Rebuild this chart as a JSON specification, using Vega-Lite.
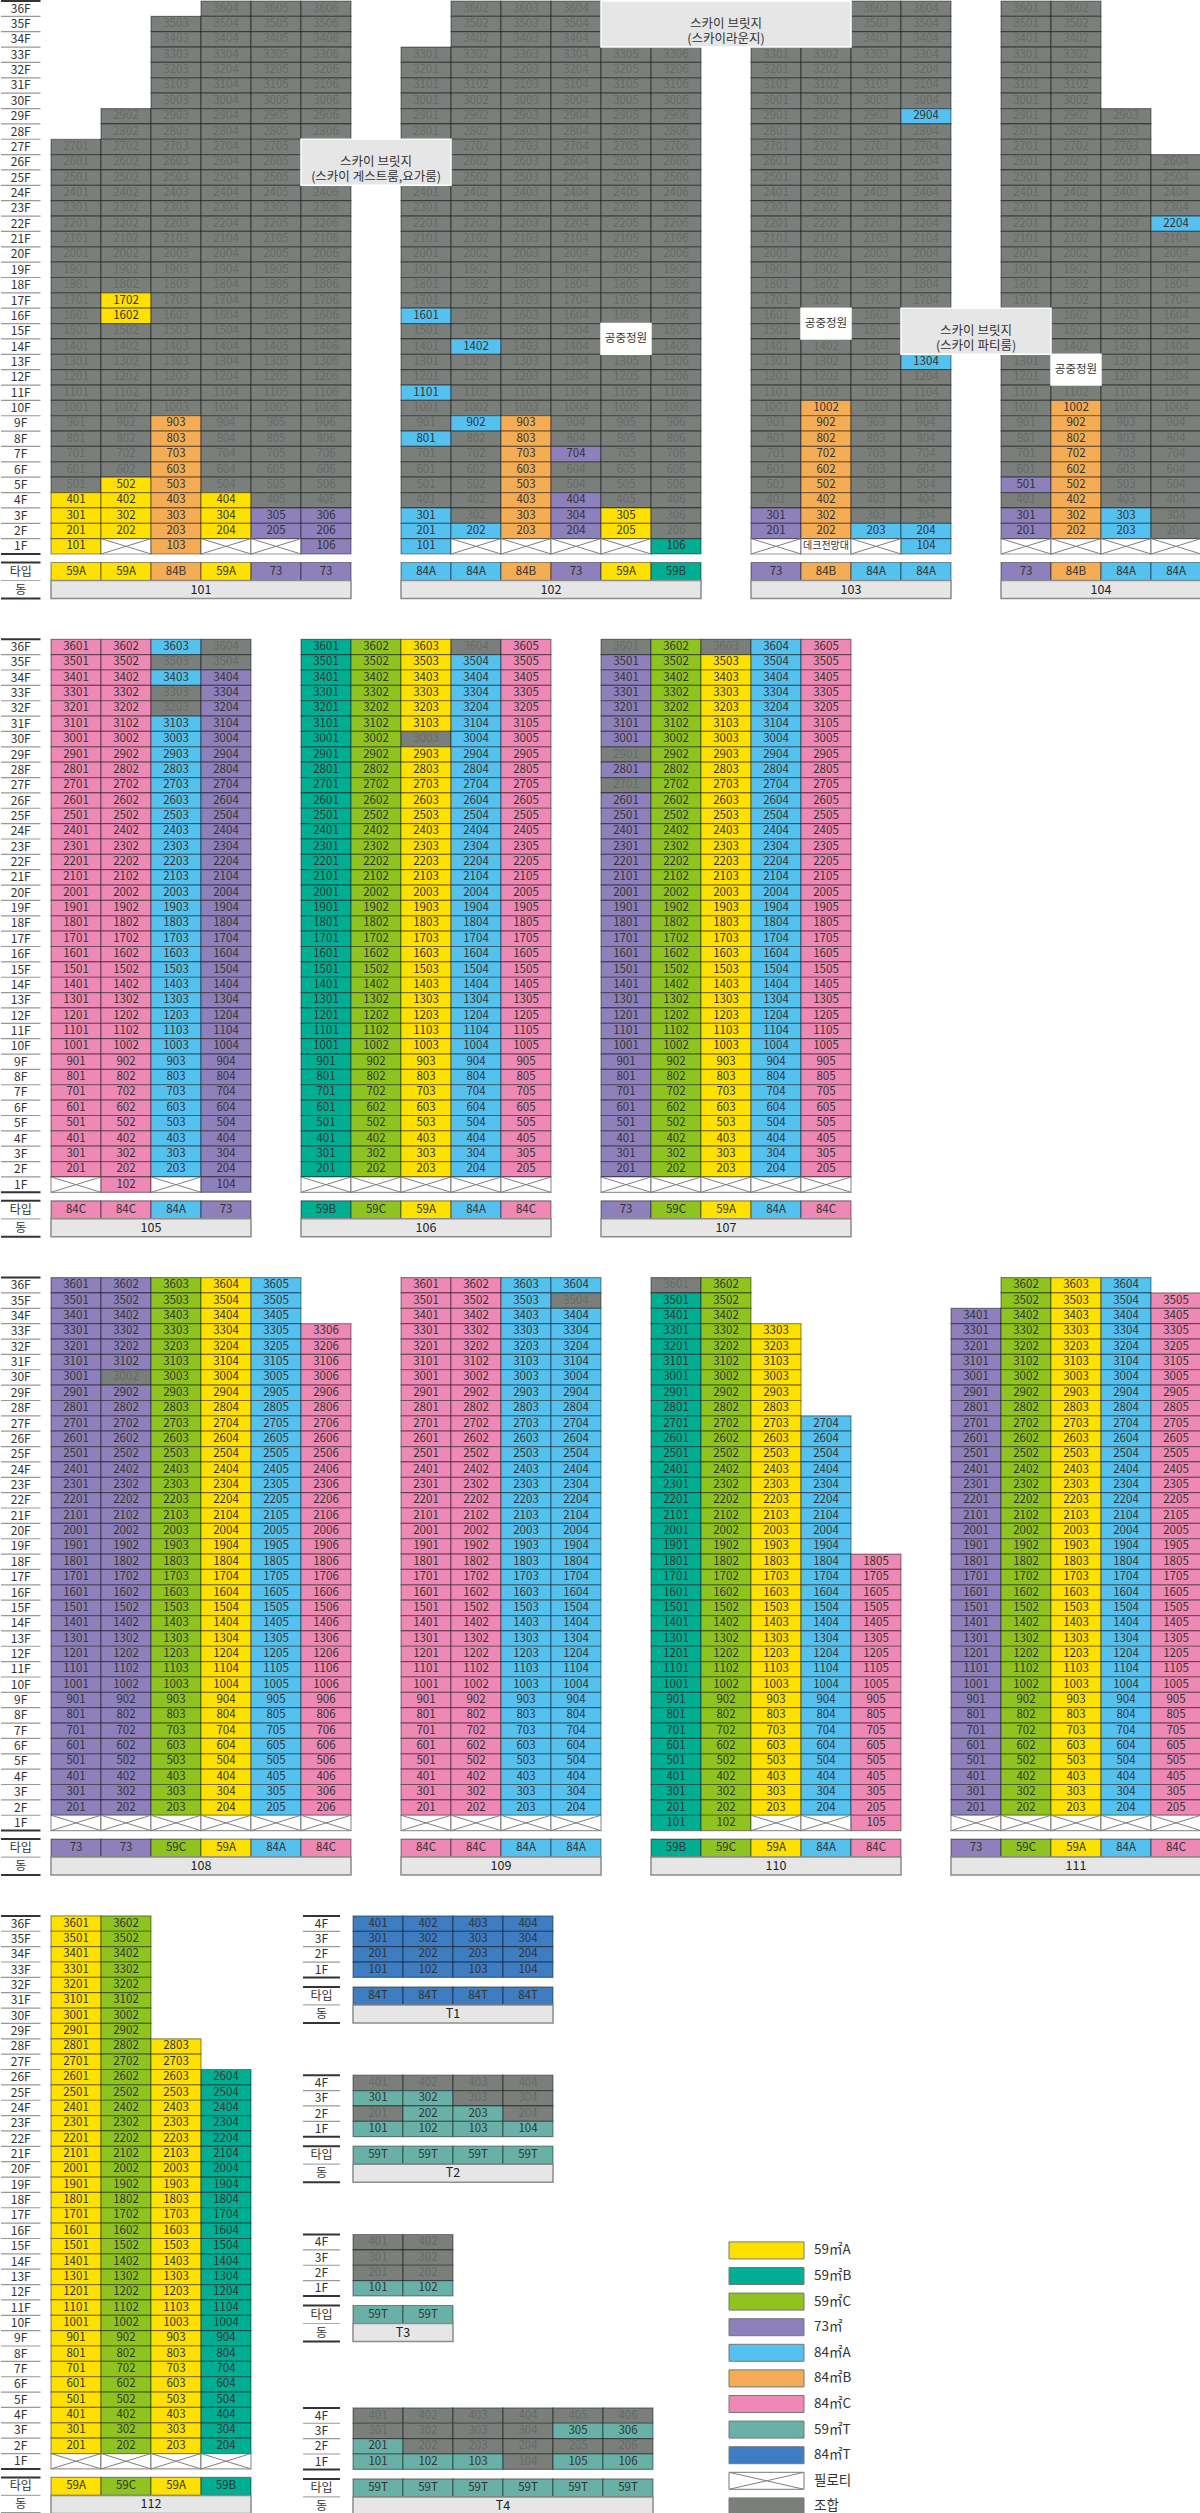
{
"$schema":"https://vega.github.io/schema/vega-lite/v6.json",
"padding":0,
"background":"white",
"config":{"view":{"stroke":null},"font":"Noto Sans CJK KR"},
"spacing":38.3,
"datasets":{
"lf36":[{"c":"L","f":36,"l":"36F"},{"c":"L","f":35,"l":"35F"},{"c":"L","f":34,"l":"34F"},{"c":"L","f":33,"l":"33F"},{"c":"L","f":32,"l":"32F"},{"c":"L","f":31,"l":"31F"},{"c":"L","f":30,"l":"30F"},{"c":"L","f":29,"l":"29F"},{"c":"L","f":28,"l":"28F"},{"c":"L","f":27,"l":"27F"},{"c":"L","f":26,"l":"26F"},{"c":"L","f":25,"l":"25F"},{"c":"L","f":24,"l":"24F"},{"c":"L","f":23,"l":"23F"},{"c":"L","f":22,"l":"22F"},{"c":"L","f":21,"l":"21F"},{"c":"L","f":20,"l":"20F"},{"c":"L","f":19,"l":"19F"},{"c":"L","f":18,"l":"18F"},{"c":"L","f":17,"l":"17F"},{"c":"L","f":16,"l":"16F"},{"c":"L","f":15,"l":"15F"},{"c":"L","f":14,"l":"14F"},{"c":"L","f":13,"l":"13F"},{"c":"L","f":12,"l":"12F"},{"c":"L","f":11,"l":"11F"},{"c":"L","f":10,"l":"10F"},{"c":"L","f":9,"l":"9F"},{"c":"L","f":8,"l":"8F"},{"c":"L","f":7,"l":"7F"},{"c":"L","f":6,"l":"6F"},{"c":"L","f":5,"l":"5F"},{"c":"L","f":4,"l":"4F"},{"c":"L","f":3,"l":"3F"},{"c":"L","f":2,"l":"2F"},{"c":"L","f":1,"l":"1F"}],
"lf4":[{"c":"L","f":4,"l":"4F"},{"c":"L","f":3,"l":"3F"},{"c":"L","f":2,"l":"2F"},{"c":"L","f":1,"l":"1F"}],
"lt":[{"c":"L","r":"타입"},{"c":"L","r":"동"}],
"ty1":[{"s":10101,"t":"59A","r":"타입"},{"s":10102,"t":"59A","r":"타입"},{"s":10103,"t":"84B","r":"타입"},{"s":10104,"t":"59A","r":"타입"},{"s":10105,"t":"73","r":"타입"},{"s":10106,"t":"73","r":"타입"},{"s":10201,"t":"84A","r":"타입"},{"s":10202,"t":"84A","r":"타입"},{"s":10203,"t":"84B","r":"타입"},{"s":10204,"t":"73","r":"타입"},{"s":10205,"t":"59A","r":"타입"},{"s":10206,"t":"59B","r":"타입"},{"s":10301,"t":"73","r":"타입"},{"s":10302,"t":"84B","r":"타입"},{"s":10303,"t":"84A","r":"타입"},{"s":10304,"t":"84A","r":"타입"},{"s":10401,"t":"73","r":"타입"},{"s":10402,"t":"84B","r":"타입"},{"s":10403,"t":"84A","r":"타입"},{"s":10404,"t":"84A","r":"타입"}],
"ty2":[{"s":10501,"t":"84C","r":"타입"},{"s":10502,"t":"84C","r":"타입"},{"s":10503,"t":"84A","r":"타입"},{"s":10504,"t":"73","r":"타입"},{"s":10601,"t":"59B","r":"타입"},{"s":10602,"t":"59C","r":"타입"},{"s":10603,"t":"59A","r":"타입"},{"s":10604,"t":"84A","r":"타입"},{"s":10605,"t":"84C","r":"타입"},{"s":10701,"t":"73","r":"타입"},{"s":10702,"t":"59C","r":"타입"},{"s":10703,"t":"59A","r":"타입"},{"s":10704,"t":"84A","r":"타입"},{"s":10705,"t":"84C","r":"타입"}],
"ty3":[{"s":10801,"t":"73","r":"타입"},{"s":10802,"t":"73","r":"타입"},{"s":10803,"t":"59C","r":"타입"},{"s":10804,"t":"59A","r":"타입"},{"s":10805,"t":"84A","r":"타입"},{"s":10806,"t":"84C","r":"타입"},{"s":10901,"t":"84C","r":"타입"},{"s":10902,"t":"84C","r":"타입"},{"s":10903,"t":"84A","r":"타입"},{"s":10904,"t":"84A","r":"타입"},{"s":11001,"t":"59B","r":"타입"},{"s":11002,"t":"59C","r":"타입"},{"s":11003,"t":"59A","r":"타입"},{"s":11004,"t":"84A","r":"타입"},{"s":11005,"t":"84C","r":"타입"},{"s":11101,"t":"73","r":"타입"},{"s":11102,"t":"59C","r":"타입"},{"s":11103,"t":"59A","r":"타입"},{"s":11104,"t":"84A","r":"타입"},{"s":11105,"t":"84C","r":"타입"}],
"ty4":[{"s":11201,"t":"59A","r":"타입"},{"s":11202,"t":"59C","r":"타입"},{"s":11203,"t":"59A","r":"타입"},{"s":11204,"t":"59B","r":"타입"}],
"tT1":[{"s":"T1-1","t":"84T","r":"타입"},{"s":"T1-2","t":"84T","r":"타입"},{"s":"T1-3","t":"84T","r":"타입"},{"s":"T1-4","t":"84T","r":"타입"}],
"tT2":[{"s":"T2-1","t":"59T","r":"타입"},{"s":"T2-2","t":"59T","r":"타입"},{"s":"T2-3","t":"59T","r":"타입"},{"s":"T2-4","t":"59T","r":"타입"}],
"tT3":[{"s":"T3-1","t":"59T","r":"타입"},{"s":"T3-2","t":"59T","r":"타입"}],
"tT4":[{"s":"T4-1","t":"59T","r":"타입"},{"s":"T4-2","t":"59T","r":"타입"},{"s":"T4-3","t":"59T","r":"타입"},{"s":"T4-4","t":"59T","r":"타입"},{"s":"T4-5","t":"59T","r":"타입"},{"s":"T4-6","t":"59T","r":"타입"}],
"n1":[{"s":10101,"s2":10106,"a":10103,"n":6,"b":"101","r":"동"},{"s":10201,"s2":10206,"a":10203,"n":6,"b":"102","r":"동"},{"s":10301,"s2":10304,"a":10302,"n":4,"b":"103","r":"동"},{"s":10401,"s2":10404,"a":10402,"n":4,"b":"104","r":"동"}],
"n2":[{"s":10501,"s2":10504,"a":10502,"n":4,"b":"105","r":"동"},{"s":10601,"s2":10605,"a":10603,"n":5,"b":"106","r":"동"},{"s":10701,"s2":10705,"a":10703,"n":5,"b":"107","r":"동"}],
"n3":[{"s":10801,"s2":10806,"a":10803,"n":6,"b":"108","r":"동"},{"s":10901,"s2":10904,"a":10902,"n":4,"b":"109","r":"동"},{"s":11001,"s2":11005,"a":11003,"n":5,"b":"110","r":"동"},{"s":11101,"s2":11105,"a":11103,"n":5,"b":"111","r":"동"}],
"n4":[{"s":11201,"s2":11204,"a":11202,"n":4,"b":"112","r":"동"}],
"nT1":[{"s":"T1-1","s2":"T1-4","a":"T1-2","n":4,"b":"T1","r":"동"}],
"nT2":[{"s":"T2-1","s2":"T2-4","a":"T2-2","n":4,"b":"T2","r":"동"}],
"nT3":[{"s":"T3-1","s2":"T3-2","a":"T3-1","n":2,"b":"T3","r":"동"}],
"nT4":[{"s":"T4-1","s2":"T4-6","a":"T4-3","n":6,"b":"T4","r":"동"}],
"b1":[{"s":10106,"s2":10201,"f":27,"f2":25,"k":"B"},{"s":10205,"s2":10302,"f":36,"f2":34,"k":"B"},{"s":10304,"s2":10401,"f":16,"f2":14,"k":"B"},{"s":10205,"s2":10205,"f":15,"f2":14,"k":"W"},{"s":10302,"s2":10302,"f":16,"f2":15,"k":"W"},{"s":10402,"s2":10402,"f":13,"f2":12,"k":"W"}],
"bt1":[{"s":"g1","f":26,"tx":"스카이 브릿지\n(스카이 게스트룸,요가룸)","k":"B"},{"s":"g2","f":35,"tx":"스카이 브릿지\n(스카이라운지)","k":"B"},{"s":"g3","f":15,"tx":"스카이 브릿지\n(스카이 파티룸)","k":"B"},{"s":10205,"f":15,"tx":"공중정원","k":"W"},{"s":10302,"f":16,"tx":"공중정원","k":"W"},{"s":10402,"f":13,"tx":"공중정원","k":"W"}],
"lg":[{"c":"sw","k":"59A","l":"59㎡A"},{"c":"sw","k":"59B","l":"59㎡B"},{"c":"sw","k":"59C","l":"59㎡C"},{"c":"sw","k":"73","l":"73㎡"},{"c":"sw","k":"84A","l":"84㎡A"},{"c":"sw","k":"84B","l":"84㎡B"},{"c":"sw","k":"84C","l":"84㎡C"},{"c":"sw","k":"59T","l":"59㎡T"},{"c":"sw","k":"84T","l":"84㎡T"},{"c":"sw","k":"P","l":"필로티"},{"c":"sw","k":"G","l":"조합"}],
"r1":[
{"s":10101,"f":27,"u":2701},{"s":10101,"f":26,"u":2601},{"s":10101,"f":25,"u":2501},{"s":10101,"f":24,"u":2401},{"s":10101,"f":23,"u":2301},{"s":10101,"f":22,"u":2201},{"s":10101,"f":21,"u":2101},{"s":10101,"f":20,"u":2001},{"s":10101,"f":19,"u":1901},{"s":10101,"f":18,"u":1801},{"s":10101,"f":17,"u":1701},{"s":10101,"f":16,"u":1601},{"s":10101,"f":15,"u":1501},{"s":10101,"f":14,"u":1401},{"s":10101,"f":13,"u":1301},{"s":10101,"f":12,"u":1201},{"s":10101,"f":11,"u":1101},{"s":10101,"f":10,"u":1001},{"s":10101,"f":9,"u":901},{"s":10101,"f":8,"u":801},{"s":10101,"f":7,"u":701},{"s":10101,"f":6,"u":601},{"s":10101,"f":5,"u":501},{"s":10101,"f":4,"u":401,"k":"C"},{"s":10101,"f":3,"u":301,"k":"C"},{"s":10101,"f":2,"u":201,"k":"C"},{"s":10101,"f":1,"u":101,"k":"C"},
{"s":10102,"f":29,"u":2902},{"s":10102,"f":28,"u":2802},{"s":10102,"f":27,"u":2702},{"s":10102,"f":26,"u":2602},{"s":10102,"f":25,"u":2502},{"s":10102,"f":24,"u":2402},{"s":10102,"f":23,"u":2302},{"s":10102,"f":22,"u":2202},{"s":10102,"f":21,"u":2102},{"s":10102,"f":20,"u":2002},{"s":10102,"f":19,"u":1902},{"s":10102,"f":18,"u":1802},{"s":10102,"f":17,"u":1702,"k":"C"},{"s":10102,"f":16,"u":1602,"k":"C"},{"s":10102,"f":15,"u":1502},{"s":10102,"f":14,"u":1402},{"s":10102,"f":13,"u":1302},{"s":10102,"f":12,"u":1202},{"s":10102,"f":11,"u":1102},{"s":10102,"f":10,"u":1002},{"s":10102,"f":9,"u":902},{"s":10102,"f":8,"u":802},{"s":10102,"f":7,"u":702},{"s":10102,"f":6,"u":602},{"s":10102,"f":5,"u":502,"k":"C"},{"s":10102,"f":4,"u":402,"k":"C"},{"s":10102,"f":3,"u":302,"k":"C"},{"s":10102,"f":2,"u":202,"k":"C"},{"s":10102,"f":1,"k":"P"},
{"s":10103,"f":35,"u":3503},{"s":10103,"f":34,"u":3403},{"s":10103,"f":33,"u":3303},{"s":10103,"f":32,"u":3203},{"s":10103,"f":31,"u":3103},{"s":10103,"f":30,"u":3003},{"s":10103,"f":29,"u":2903},{"s":10103,"f":28,"u":2803},{"s":10103,"f":27,"u":2703},{"s":10103,"f":26,"u":2603},{"s":10103,"f":25,"u":2503},{"s":10103,"f":24,"u":2403},{"s":10103,"f":23,"u":2303},{"s":10103,"f":22,"u":2203},{"s":10103,"f":21,"u":2103},{"s":10103,"f":20,"u":2003},{"s":10103,"f":19,"u":1903},{"s":10103,"f":18,"u":1803},{"s":10103,"f":17,"u":1703},{"s":10103,"f":16,"u":1603},{"s":10103,"f":15,"u":1503},{"s":10103,"f":14,"u":1403},{"s":10103,"f":13,"u":1303},{"s":10103,"f":12,"u":1203},{"s":10103,"f":11,"u":1103},{"s":10103,"f":10,"u":1003},{"s":10103,"f":9,"u":903,"k":"C"},{"s":10103,"f":8,"u":803,"k":"C"},{"s":10103,"f":7,"u":703,"k":"C"},{"s":10103,"f":6,"u":603,"k":"C"},{"s":10103,"f":5,"u":503,"k":"C"},{"s":10103,"f":4,"u":403,"k":"C"},{"s":10103,"f":3,"u":303,"k":"C"},{"s":10103,"f":2,"u":203,"k":"C"},{"s":10103,"f":1,"u":103,"k":"C"},
{"s":10104,"f":36,"u":3604},{"s":10104,"f":35,"u":3504},{"s":10104,"f":34,"u":3404},{"s":10104,"f":33,"u":3304},{"s":10104,"f":32,"u":3204},{"s":10104,"f":31,"u":3104},{"s":10104,"f":30,"u":3004},{"s":10104,"f":29,"u":2904},{"s":10104,"f":28,"u":2804},{"s":10104,"f":27,"u":2704},{"s":10104,"f":26,"u":2604},{"s":10104,"f":25,"u":2504},{"s":10104,"f":24,"u":2404},{"s":10104,"f":23,"u":2304},{"s":10104,"f":22,"u":2204},{"s":10104,"f":21,"u":2104},{"s":10104,"f":20,"u":2004},{"s":10104,"f":19,"u":1904},{"s":10104,"f":18,"u":1804},{"s":10104,"f":17,"u":1704},{"s":10104,"f":16,"u":1604},{"s":10104,"f":15,"u":1504},{"s":10104,"f":14,"u":1404},{"s":10104,"f":13,"u":1304},{"s":10104,"f":12,"u":1204},{"s":10104,"f":11,"u":1104},{"s":10104,"f":10,"u":1004},{"s":10104,"f":9,"u":904},{"s":10104,"f":8,"u":804},{"s":10104,"f":7,"u":704},{"s":10104,"f":6,"u":604},{"s":10104,"f":5,"u":504},{"s":10104,"f":4,"u":404,"k":"C"},{"s":10104,"f":3,"u":304,"k":"C"},{"s":10104,"f":2,"u":204,"k":"C"},{"s":10104,"f":1,"k":"P"},
{"s":10105,"f":36,"u":3605},{"s":10105,"f":35,"u":3505},{"s":10105,"f":34,"u":3405},{"s":10105,"f":33,"u":3305},{"s":10105,"f":32,"u":3205},{"s":10105,"f":31,"u":3105},{"s":10105,"f":30,"u":3005},{"s":10105,"f":29,"u":2905},{"s":10105,"f":28,"u":2805},{"s":10105,"f":27,"u":2705},{"s":10105,"f":26,"u":2605},{"s":10105,"f":25,"u":2505},{"s":10105,"f":24,"u":2405},{"s":10105,"f":23,"u":2305},{"s":10105,"f":22,"u":2205},{"s":10105,"f":21,"u":2105},{"s":10105,"f":20,"u":2005},{"s":10105,"f":19,"u":1905},{"s":10105,"f":18,"u":1805},{"s":10105,"f":17,"u":1705},{"s":10105,"f":16,"u":1605},{"s":10105,"f":15,"u":1505},{"s":10105,"f":14,"u":1405},{"s":10105,"f":13,"u":1305},{"s":10105,"f":12,"u":1205},{"s":10105,"f":11,"u":1105},{"s":10105,"f":10,"u":1005},{"s":10105,"f":9,"u":905},{"s":10105,"f":8,"u":805},{"s":10105,"f":7,"u":705},{"s":10105,"f":6,"u":605},{"s":10105,"f":5,"u":505},{"s":10105,"f":4,"u":405},{"s":10105,"f":3,"u":305,"k":"C"},{"s":10105,"f":2,"u":205,"k":"C"},{"s":10105,"f":1,"k":"P"},
{"s":10106,"f":36,"u":3606},{"s":10106,"f":35,"u":3506},{"s":10106,"f":34,"u":3406},{"s":10106,"f":33,"u":3306},{"s":10106,"f":32,"u":3206},{"s":10106,"f":31,"u":3106},{"s":10106,"f":30,"u":3006},{"s":10106,"f":29,"u":2906},{"s":10106,"f":28,"u":2806},{"s":10106,"f":24,"u":2406},{"s":10106,"f":23,"u":2306},{"s":10106,"f":22,"u":2206},{"s":10106,"f":21,"u":2106},{"s":10106,"f":20,"u":2006},{"s":10106,"f":19,"u":1906},{"s":10106,"f":18,"u":1806},{"s":10106,"f":17,"u":1706},{"s":10106,"f":16,"u":1606},{"s":10106,"f":15,"u":1506},{"s":10106,"f":14,"u":1406},{"s":10106,"f":13,"u":1306},{"s":10106,"f":12,"u":1206},{"s":10106,"f":11,"u":1106},{"s":10106,"f":10,"u":1006},{"s":10106,"f":9,"u":906},{"s":10106,"f":8,"u":806},{"s":10106,"f":7,"u":706},{"s":10106,"f":6,"u":606},{"s":10106,"f":5,"u":506},{"s":10106,"f":4,"u":406},{"s":10106,"f":3,"u":306,"k":"C"},{"s":10106,"f":2,"u":206,"k":"C"},{"s":10106,"f":1,"u":106,"k":"C"},
{"s":10201,"f":33,"u":3301},{"s":10201,"f":32,"u":3201},{"s":10201,"f":31,"u":3101},{"s":10201,"f":30,"u":3001},{"s":10201,"f":29,"u":2901},{"s":10201,"f":28,"u":2801},{"s":10201,"f":24,"u":2401},{"s":10201,"f":23,"u":2301},{"s":10201,"f":22,"u":2201},{"s":10201,"f":21,"u":2101},{"s":10201,"f":20,"u":2001},{"s":10201,"f":19,"u":1901},{"s":10201,"f":18,"u":1801},{"s":10201,"f":17,"u":1701},{"s":10201,"f":16,"u":1601,"k":"C"},{"s":10201,"f":15,"u":1501},{"s":10201,"f":14,"u":1401},{"s":10201,"f":13,"u":1301},{"s":10201,"f":12,"u":1201},{"s":10201,"f":11,"u":1101,"k":"C"},{"s":10201,"f":10,"u":1001},{"s":10201,"f":9,"u":901},{"s":10201,"f":8,"u":801,"k":"C"},{"s":10201,"f":7,"u":701},{"s":10201,"f":6,"u":601},{"s":10201,"f":5,"u":501},{"s":10201,"f":4,"u":401},{"s":10201,"f":3,"u":301,"k":"C"},{"s":10201,"f":2,"u":201,"k":"C"},{"s":10201,"f":1,"u":101,"k":"C"},
{"s":10202,"f":36,"u":3602},{"s":10202,"f":35,"u":3502},{"s":10202,"f":34,"u":3402},{"s":10202,"f":33,"u":3302},{"s":10202,"f":32,"u":3202},{"s":10202,"f":31,"u":3102},{"s":10202,"f":30,"u":3002},{"s":10202,"f":29,"u":2902},{"s":10202,"f":28,"u":2802},{"s":10202,"f":27,"u":2702},{"s":10202,"f":26,"u":2602},{"s":10202,"f":25,"u":2502},{"s":10202,"f":24,"u":2402},{"s":10202,"f":23,"u":2302},{"s":10202,"f":22,"u":2202},{"s":10202,"f":21,"u":2102},{"s":10202,"f":20,"u":2002},{"s":10202,"f":19,"u":1902},{"s":10202,"f":18,"u":1802},{"s":10202,"f":17,"u":1702},{"s":10202,"f":16,"u":1602},{"s":10202,"f":15,"u":1502},{"s":10202,"f":14,"u":1402,"k":"C"},{"s":10202,"f":13,"u":1302},{"s":10202,"f":12,"u":1202},{"s":10202,"f":11,"u":1102},{"s":10202,"f":10,"u":1002},{"s":10202,"f":9,"u":902,"k":"C"},{"s":10202,"f":8,"u":802},{"s":10202,"f":7,"u":702},{"s":10202,"f":6,"u":602},{"s":10202,"f":5,"u":502},{"s":10202,"f":4,"u":402},{"s":10202,"f":3,"u":302},{"s":10202,"f":2,"u":202,"k":"C"},{"s":10202,"f":1,"k":"P"},
{"s":10203,"f":36,"u":3603},{"s":10203,"f":35,"u":3503},{"s":10203,"f":34,"u":3403},{"s":10203,"f":33,"u":3303},{"s":10203,"f":32,"u":3203},{"s":10203,"f":31,"u":3103},{"s":10203,"f":30,"u":3003},{"s":10203,"f":29,"u":2903},{"s":10203,"f":28,"u":2803},{"s":10203,"f":27,"u":2703},{"s":10203,"f":26,"u":2603},{"s":10203,"f":25,"u":2503},{"s":10203,"f":24,"u":2403},{"s":10203,"f":23,"u":2303},{"s":10203,"f":22,"u":2203},{"s":10203,"f":21,"u":2103},{"s":10203,"f":20,"u":2003},{"s":10203,"f":19,"u":1903},{"s":10203,"f":18,"u":1803},{"s":10203,"f":17,"u":1703},{"s":10203,"f":16,"u":1603},{"s":10203,"f":15,"u":1503},{"s":10203,"f":14,"u":1403},{"s":10203,"f":13,"u":1303},{"s":10203,"f":12,"u":1203},{"s":10203,"f":11,"u":1103},{"s":10203,"f":10,"u":1003},{"s":10203,"f":9,"u":903,"k":"C"},{"s":10203,"f":8,"u":803,"k":"C"},{"s":10203,"f":7,"u":703,"k":"C"},{"s":10203,"f":6,"u":603,"k":"C"},{"s":10203,"f":5,"u":503,"k":"C"},{"s":10203,"f":4,"u":403,"k":"C"},{"s":10203,"f":3,"u":303,"k":"C"},{"s":10203,"f":2,"u":203,"k":"C"},{"s":10203,"f":1,"k":"P"},
{"s":10204,"f":36,"u":3604},{"s":10204,"f":35,"u":3504},{"s":10204,"f":34,"u":3404},{"s":10204,"f":33,"u":3304},{"s":10204,"f":32,"u":3204},{"s":10204,"f":31,"u":3104},{"s":10204,"f":30,"u":3004},{"s":10204,"f":29,"u":2904},{"s":10204,"f":28,"u":2804},{"s":10204,"f":27,"u":2704},{"s":10204,"f":26,"u":2604},{"s":10204,"f":25,"u":2504},{"s":10204,"f":24,"u":2404},{"s":10204,"f":23,"u":2304},{"s":10204,"f":22,"u":2204},{"s":10204,"f":21,"u":2104},{"s":10204,"f":20,"u":2004},{"s":10204,"f":19,"u":1904},{"s":10204,"f":18,"u":1804},{"s":10204,"f":17,"u":1704},{"s":10204,"f":16,"u":1604},{"s":10204,"f":15,"u":1504},{"s":10204,"f":14,"u":1404},{"s":10204,"f":13,"u":1304},{"s":10204,"f":12,"u":1204},{"s":10204,"f":11,"u":1104},{"s":10204,"f":10,"u":1004},{"s":10204,"f":9,"u":904},{"s":10204,"f":8,"u":804},{"s":10204,"f":7,"u":704,"k":"C"},{"s":10204,"f":6,"u":604},{"s":10204,"f":5,"u":504},{"s":10204,"f":4,"u":404,"k":"C"},{"s":10204,"f":3,"u":304,"k":"C"},{"s":10204,"f":2,"u":204,"k":"C"},{"s":10204,"f":1,"k":"P"},
{"s":10205,"f":33,"u":3305},{"s":10205,"f":32,"u":3205},{"s":10205,"f":31,"u":3105},{"s":10205,"f":30,"u":3005},{"s":10205,"f":29,"u":2905},{"s":10205,"f":28,"u":2805},{"s":10205,"f":27,"u":2705},{"s":10205,"f":26,"u":2605},{"s":10205,"f":25,"u":2505},{"s":10205,"f":24,"u":2405},{"s":10205,"f":23,"u":2305},{"s":10205,"f":22,"u":2205},{"s":10205,"f":21,"u":2105},{"s":10205,"f":20,"u":2005},{"s":10205,"f":19,"u":1905},{"s":10205,"f":18,"u":1805},{"s":10205,"f":17,"u":1705},{"s":10205,"f":16,"u":1605},{"s":10205,"f":13,"u":1305},{"s":10205,"f":12,"u":1205},{"s":10205,"f":11,"u":1105},{"s":10205,"f":10,"u":1005},{"s":10205,"f":9,"u":905},{"s":10205,"f":8,"u":805},{"s":10205,"f":7,"u":705},{"s":10205,"f":6,"u":605},{"s":10205,"f":5,"u":505},{"s":10205,"f":4,"u":405},{"s":10205,"f":3,"u":305,"k":"C"},{"s":10205,"f":2,"u":205,"k":"C"},{"s":10205,"f":1,"k":"P"},
{"s":10206,"f":33,"u":3306},{"s":10206,"f":32,"u":3206},{"s":10206,"f":31,"u":3106},{"s":10206,"f":30,"u":3006},{"s":10206,"f":29,"u":2906},{"s":10206,"f":28,"u":2806},{"s":10206,"f":27,"u":2706},{"s":10206,"f":26,"u":2606},{"s":10206,"f":25,"u":2506},{"s":10206,"f":24,"u":2406},{"s":10206,"f":23,"u":2306},{"s":10206,"f":22,"u":2206},{"s":10206,"f":21,"u":2106},{"s":10206,"f":20,"u":2006},{"s":10206,"f":19,"u":1906},{"s":10206,"f":18,"u":1806},{"s":10206,"f":17,"u":1706},{"s":10206,"f":16,"u":1606},{"s":10206,"f":15,"u":1506},{"s":10206,"f":14,"u":1406},{"s":10206,"f":13,"u":1306},{"s":10206,"f":12,"u":1206},{"s":10206,"f":11,"u":1106},{"s":10206,"f":10,"u":1006},{"s":10206,"f":9,"u":906},{"s":10206,"f":8,"u":806},{"s":10206,"f":7,"u":706},{"s":10206,"f":6,"u":606},{"s":10206,"f":5,"u":506},{"s":10206,"f":4,"u":406},{"s":10206,"f":3,"u":306},{"s":10206,"f":2,"u":206},{"s":10206,"f":1,"u":106,"k":"C"},
{"s":10301,"f":33,"u":3301},{"s":10301,"f":32,"u":3201},{"s":10301,"f":31,"u":3101},{"s":10301,"f":30,"u":3001},{"s":10301,"f":29,"u":2901},{"s":10301,"f":28,"u":2801},{"s":10301,"f":27,"u":2701},{"s":10301,"f":26,"u":2601},{"s":10301,"f":25,"u":2501},{"s":10301,"f":24,"u":2401},{"s":10301,"f":23,"u":2301},{"s":10301,"f":22,"u":2201},{"s":10301,"f":21,"u":2101},{"s":10301,"f":20,"u":2001},{"s":10301,"f":19,"u":1901},{"s":10301,"f":18,"u":1801},{"s":10301,"f":17,"u":1701},{"s":10301,"f":16,"u":1601},{"s":10301,"f":15,"u":1501},{"s":10301,"f":14,"u":1401},{"s":10301,"f":13,"u":1301},{"s":10301,"f":12,"u":1201},{"s":10301,"f":11,"u":1101},{"s":10301,"f":10,"u":1001},{"s":10301,"f":9,"u":901},{"s":10301,"f":8,"u":801},{"s":10301,"f":7,"u":701},{"s":10301,"f":6,"u":601},{"s":10301,"f":5,"u":501},{"s":10301,"f":4,"u":401},{"s":10301,"f":3,"u":301,"k":"C"},{"s":10301,"f":2,"u":201,"k":"C"},{"s":10301,"f":1,"k":"P"},
{"s":10302,"f":33,"u":3302},{"s":10302,"f":32,"u":3202},{"s":10302,"f":31,"u":3102},{"s":10302,"f":30,"u":3002},{"s":10302,"f":29,"u":2902},{"s":10302,"f":28,"u":2802},{"s":10302,"f":27,"u":2702},{"s":10302,"f":26,"u":2602},{"s":10302,"f":25,"u":2502},{"s":10302,"f":24,"u":2402},{"s":10302,"f":23,"u":2302},{"s":10302,"f":22,"u":2202},{"s":10302,"f":21,"u":2102},{"s":10302,"f":20,"u":2002},{"s":10302,"f":19,"u":1902},{"s":10302,"f":18,"u":1802},{"s":10302,"f":17,"u":1702},{"s":10302,"f":14,"u":1402},{"s":10302,"f":13,"u":1302},{"s":10302,"f":12,"u":1202},{"s":10302,"f":11,"u":1102},{"s":10302,"f":10,"u":1002,"k":"C"},{"s":10302,"f":9,"u":902,"k":"C"},{"s":10302,"f":8,"u":802,"k":"C"},{"s":10302,"f":7,"u":702,"k":"C"},{"s":10302,"f":6,"u":602,"k":"C"},{"s":10302,"f":5,"u":502,"k":"C"},{"s":10302,"f":4,"u":402,"k":"C"},{"s":10302,"f":3,"u":302,"k":"C"},{"s":10302,"f":2,"u":202,"k":"C"},{"s":10302,"f":1,"u":"데크전망대","k":"W"},
{"s":10303,"f":36,"u":3603},{"s":10303,"f":35,"u":3503},{"s":10303,"f":34,"u":3403},{"s":10303,"f":33,"u":3303},{"s":10303,"f":32,"u":3203},{"s":10303,"f":31,"u":3103},{"s":10303,"f":30,"u":3003},{"s":10303,"f":29,"u":2903},{"s":10303,"f":28,"u":2803},{"s":10303,"f":27,"u":2703},{"s":10303,"f":26,"u":2603},{"s":10303,"f":25,"u":2503},{"s":10303,"f":24,"u":2403},{"s":10303,"f":23,"u":2303},{"s":10303,"f":22,"u":2203},{"s":10303,"f":21,"u":2103},{"s":10303,"f":20,"u":2003},{"s":10303,"f":19,"u":1903},{"s":10303,"f":18,"u":1803},{"s":10303,"f":17,"u":1703},{"s":10303,"f":16,"u":1603},{"s":10303,"f":15,"u":1503},{"s":10303,"f":14,"u":1403},{"s":10303,"f":13,"u":1303},{"s":10303,"f":12,"u":1203},{"s":10303,"f":11,"u":1103},{"s":10303,"f":10,"u":1003},{"s":10303,"f":9,"u":903},{"s":10303,"f":8,"u":803},{"s":10303,"f":7,"u":703},{"s":10303,"f":6,"u":603},{"s":10303,"f":5,"u":503},{"s":10303,"f":4,"u":403},{"s":10303,"f":3,"u":303},{"s":10303,"f":2,"u":203,"k":"C"},{"s":10303,"f":1,"k":"P"},
{"s":10304,"f":36,"u":3604},{"s":10304,"f":35,"u":3504},{"s":10304,"f":34,"u":3404},{"s":10304,"f":33,"u":3304},{"s":10304,"f":32,"u":3204},{"s":10304,"f":31,"u":3104},{"s":10304,"f":30,"u":3004},{"s":10304,"f":29,"u":2904,"k":"C"},{"s":10304,"f":28,"u":2804},{"s":10304,"f":27,"u":2704},{"s":10304,"f":26,"u":2604},{"s":10304,"f":25,"u":2504},{"s":10304,"f":24,"u":2404},{"s":10304,"f":23,"u":2304},{"s":10304,"f":22,"u":2204},{"s":10304,"f":21,"u":2104},{"s":10304,"f":20,"u":2004},{"s":10304,"f":19,"u":1904},{"s":10304,"f":18,"u":1804},{"s":10304,"f":17,"u":1704},{"s":10304,"f":13,"u":1304,"k":"C"},{"s":10304,"f":12,"u":1204},{"s":10304,"f":11,"u":1104},{"s":10304,"f":10,"u":1004},{"s":10304,"f":9,"u":904},{"s":10304,"f":8,"u":804},{"s":10304,"f":7,"u":704},{"s":10304,"f":6,"u":604},{"s":10304,"f":5,"u":504},{"s":10304,"f":4,"u":404},{"s":10304,"f":3,"u":304},{"s":10304,"f":2,"u":204,"k":"C"},{"s":10304,"f":1,"u":104,"k":"C"},
{"s":10401,"f":36,"u":3601},{"s":10401,"f":35,"u":3501},{"s":10401,"f":34,"u":3401},{"s":10401,"f":33,"u":3301},{"s":10401,"f":32,"u":3201},{"s":10401,"f":31,"u":3101},{"s":10401,"f":30,"u":3001},{"s":10401,"f":29,"u":2901},{"s":10401,"f":28,"u":2801},{"s":10401,"f":27,"u":2701},{"s":10401,"f":26,"u":2601},{"s":10401,"f":25,"u":2501},{"s":10401,"f":24,"u":2401},{"s":10401,"f":23,"u":2301},{"s":10401,"f":22,"u":2201},{"s":10401,"f":21,"u":2101},{"s":10401,"f":20,"u":2001},{"s":10401,"f":19,"u":1901},{"s":10401,"f":18,"u":1801},{"s":10401,"f":17,"u":1701},{"s":10401,"f":13,"u":1301},{"s":10401,"f":12,"u":1201},{"s":10401,"f":11,"u":1101},{"s":10401,"f":10,"u":1001},{"s":10401,"f":9,"u":901},{"s":10401,"f":8,"u":801},{"s":10401,"f":7,"u":701},{"s":10401,"f":6,"u":601},{"s":10401,"f":5,"u":501,"k":"C"},{"s":10401,"f":4,"u":401},{"s":10401,"f":3,"u":301,"k":"C"},{"s":10401,"f":2,"u":201,"k":"C"},{"s":10401,"f":1,"k":"P"},
{"s":10402,"f":36,"u":3602},{"s":10402,"f":35,"u":3502},{"s":10402,"f":34,"u":3402},{"s":10402,"f":33,"u":3302},{"s":10402,"f":32,"u":3202},{"s":10402,"f":31,"u":3102},{"s":10402,"f":30,"u":3002},{"s":10402,"f":29,"u":2902},{"s":10402,"f":28,"u":2802},{"s":10402,"f":27,"u":2702},{"s":10402,"f":26,"u":2602},{"s":10402,"f":25,"u":2502},{"s":10402,"f":24,"u":2402},{"s":10402,"f":23,"u":2302},{"s":10402,"f":22,"u":2202},{"s":10402,"f":21,"u":2102},{"s":10402,"f":20,"u":2002},{"s":10402,"f":19,"u":1902},{"s":10402,"f":18,"u":1802},{"s":10402,"f":17,"u":1702},{"s":10402,"f":16,"u":1602},{"s":10402,"f":15,"u":1502},{"s":10402,"f":14,"u":1402},{"s":10402,"f":11,"u":1102},{"s":10402,"f":10,"u":1002,"k":"C"},{"s":10402,"f":9,"u":902,"k":"C"},{"s":10402,"f":8,"u":802,"k":"C"},{"s":10402,"f":7,"u":702,"k":"C"},{"s":10402,"f":6,"u":602,"k":"C"},{"s":10402,"f":5,"u":502,"k":"C"},{"s":10402,"f":4,"u":402,"k":"C"},{"s":10402,"f":3,"u":302,"k":"C"},{"s":10402,"f":2,"u":202,"k":"C"},{"s":10402,"f":1,"k":"P"},
{"s":10403,"f":29,"u":2903},{"s":10403,"f":28,"u":2803},{"s":10403,"f":27,"u":2703},{"s":10403,"f":26,"u":2603},{"s":10403,"f":25,"u":2503},{"s":10403,"f":24,"u":2403},{"s":10403,"f":23,"u":2303},{"s":10403,"f":22,"u":2203},{"s":10403,"f":21,"u":2103},{"s":10403,"f":20,"u":2003},{"s":10403,"f":19,"u":1903},{"s":10403,"f":18,"u":1803},{"s":10403,"f":17,"u":1703},{"s":10403,"f":16,"u":1603},{"s":10403,"f":15,"u":1503},{"s":10403,"f":14,"u":1403},{"s":10403,"f":13,"u":1303},{"s":10403,"f":12,"u":1203},{"s":10403,"f":11,"u":1103},{"s":10403,"f":10,"u":1003},{"s":10403,"f":9,"u":903},{"s":10403,"f":8,"u":803},{"s":10403,"f":7,"u":703},{"s":10403,"f":6,"u":603},{"s":10403,"f":5,"u":503},{"s":10403,"f":4,"u":403},{"s":10403,"f":3,"u":303,"k":"C"},{"s":10403,"f":2,"u":203,"k":"C"},{"s":10403,"f":1,"k":"P"},
{"s":10404,"f":26,"u":2604},{"s":10404,"f":25,"u":2504},{"s":10404,"f":24,"u":2404},{"s":10404,"f":23,"u":2304},{"s":10404,"f":22,"u":2204,"k":"C"},{"s":10404,"f":21,"u":2104},{"s":10404,"f":20,"u":2004},{"s":10404,"f":19,"u":1904},{"s":10404,"f":18,"u":1804},{"s":10404,"f":17,"u":1704},{"s":10404,"f":16,"u":1604},{"s":10404,"f":15,"u":1504},{"s":10404,"f":14,"u":1404},{"s":10404,"f":13,"u":1304},{"s":10404,"f":12,"u":1204},{"s":10404,"f":11,"u":1104},{"s":10404,"f":10,"u":1004},{"s":10404,"f":9,"u":904},{"s":10404,"f":8,"u":804},{"s":10404,"f":7,"u":704},{"s":10404,"f":6,"u":604},{"s":10404,"f":5,"u":504},{"s":10404,"f":4,"u":404},{"s":10404,"f":3,"u":304},{"s":10404,"f":2,"u":204},{"s":10404,"f":1,"k":"P"}
],
"r2":[
{"s":10501,"f":36,"u":3601},{"s":10501,"f":35,"u":3501},{"s":10501,"f":34,"u":3401},{"s":10501,"f":33,"u":3301},{"s":10501,"f":32,"u":3201},{"s":10501,"f":31,"u":3101},{"s":10501,"f":30,"u":3001},{"s":10501,"f":29,"u":2901},{"s":10501,"f":28,"u":2801},{"s":10501,"f":27,"u":2701},{"s":10501,"f":26,"u":2601},{"s":10501,"f":25,"u":2501},{"s":10501,"f":24,"u":2401},{"s":10501,"f":23,"u":2301},{"s":10501,"f":22,"u":2201},{"s":10501,"f":21,"u":2101},{"s":10501,"f":20,"u":2001},{"s":10501,"f":19,"u":1901},{"s":10501,"f":18,"u":1801},{"s":10501,"f":17,"u":1701},{"s":10501,"f":16,"u":1601},{"s":10501,"f":15,"u":1501},{"s":10501,"f":14,"u":1401},{"s":10501,"f":13,"u":1301},{"s":10501,"f":12,"u":1201},{"s":10501,"f":11,"u":1101},{"s":10501,"f":10,"u":1001},{"s":10501,"f":9,"u":901},{"s":10501,"f":8,"u":801},{"s":10501,"f":7,"u":701},{"s":10501,"f":6,"u":601},{"s":10501,"f":5,"u":501},{"s":10501,"f":4,"u":401},{"s":10501,"f":3,"u":301},{"s":10501,"f":2,"u":201},{"s":10501,"f":1,"k":"P"},
{"s":10502,"f":36,"u":3602},{"s":10502,"f":35,"u":3502},{"s":10502,"f":34,"u":3402},{"s":10502,"f":33,"u":3302},{"s":10502,"f":32,"u":3202},{"s":10502,"f":31,"u":3102},{"s":10502,"f":30,"u":3002},{"s":10502,"f":29,"u":2902},{"s":10502,"f":28,"u":2802},{"s":10502,"f":27,"u":2702},{"s":10502,"f":26,"u":2602},{"s":10502,"f":25,"u":2502},{"s":10502,"f":24,"u":2402},{"s":10502,"f":23,"u":2302},{"s":10502,"f":22,"u":2202},{"s":10502,"f":21,"u":2102},{"s":10502,"f":20,"u":2002},{"s":10502,"f":19,"u":1902},{"s":10502,"f":18,"u":1802},{"s":10502,"f":17,"u":1702},{"s":10502,"f":16,"u":1602},{"s":10502,"f":15,"u":1502},{"s":10502,"f":14,"u":1402},{"s":10502,"f":13,"u":1302},{"s":10502,"f":12,"u":1202},{"s":10502,"f":11,"u":1102},{"s":10502,"f":10,"u":1002},{"s":10502,"f":9,"u":902},{"s":10502,"f":8,"u":802},{"s":10502,"f":7,"u":702},{"s":10502,"f":6,"u":602},{"s":10502,"f":5,"u":502},{"s":10502,"f":4,"u":402},{"s":10502,"f":3,"u":302},{"s":10502,"f":2,"u":202},{"s":10502,"f":1,"u":102},
{"s":10503,"f":36,"u":3603},{"s":10503,"f":35,"u":3503,"k":"G"},{"s":10503,"f":34,"u":3403},{"s":10503,"f":33,"u":3303,"k":"G"},{"s":10503,"f":32,"u":3203,"k":"G"},{"s":10503,"f":31,"u":3103},{"s":10503,"f":30,"u":3003},{"s":10503,"f":29,"u":2903},{"s":10503,"f":28,"u":2803},{"s":10503,"f":27,"u":2703},{"s":10503,"f":26,"u":2603},{"s":10503,"f":25,"u":2503},{"s":10503,"f":24,"u":2403},{"s":10503,"f":23,"u":2303},{"s":10503,"f":22,"u":2203},{"s":10503,"f":21,"u":2103},{"s":10503,"f":20,"u":2003},{"s":10503,"f":19,"u":1903},{"s":10503,"f":18,"u":1803},{"s":10503,"f":17,"u":1703},{"s":10503,"f":16,"u":1603},{"s":10503,"f":15,"u":1503},{"s":10503,"f":14,"u":1403},{"s":10503,"f":13,"u":1303},{"s":10503,"f":12,"u":1203},{"s":10503,"f":11,"u":1103},{"s":10503,"f":10,"u":1003},{"s":10503,"f":9,"u":903},{"s":10503,"f":8,"u":803},{"s":10503,"f":7,"u":703},{"s":10503,"f":6,"u":603},{"s":10503,"f":5,"u":503},{"s":10503,"f":4,"u":403},{"s":10503,"f":3,"u":303},{"s":10503,"f":2,"u":203},{"s":10503,"f":1,"k":"P"},
{"s":10504,"f":36,"u":3604,"k":"G"},{"s":10504,"f":35,"u":3504,"k":"G"},{"s":10504,"f":34,"u":3404},{"s":10504,"f":33,"u":3304},{"s":10504,"f":32,"u":3204},{"s":10504,"f":31,"u":3104},{"s":10504,"f":30,"u":3004},{"s":10504,"f":29,"u":2904},{"s":10504,"f":28,"u":2804},{"s":10504,"f":27,"u":2704},{"s":10504,"f":26,"u":2604},{"s":10504,"f":25,"u":2504},{"s":10504,"f":24,"u":2404},{"s":10504,"f":23,"u":2304},{"s":10504,"f":22,"u":2204},{"s":10504,"f":21,"u":2104},{"s":10504,"f":20,"u":2004},{"s":10504,"f":19,"u":1904},{"s":10504,"f":18,"u":1804},{"s":10504,"f":17,"u":1704},{"s":10504,"f":16,"u":1604},{"s":10504,"f":15,"u":1504},{"s":10504,"f":14,"u":1404},{"s":10504,"f":13,"u":1304},{"s":10504,"f":12,"u":1204},{"s":10504,"f":11,"u":1104},{"s":10504,"f":10,"u":1004},{"s":10504,"f":9,"u":904},{"s":10504,"f":8,"u":804},{"s":10504,"f":7,"u":704},{"s":10504,"f":6,"u":604},{"s":10504,"f":5,"u":504},{"s":10504,"f":4,"u":404},{"s":10504,"f":3,"u":304},{"s":10504,"f":2,"u":204},{"s":10504,"f":1,"u":104},
{"s":10601,"f":36,"u":3601},{"s":10601,"f":35,"u":3501},{"s":10601,"f":34,"u":3401},{"s":10601,"f":33,"u":3301},{"s":10601,"f":32,"u":3201},{"s":10601,"f":31,"u":3101},{"s":10601,"f":30,"u":3001},{"s":10601,"f":29,"u":2901},{"s":10601,"f":28,"u":2801},{"s":10601,"f":27,"u":2701},{"s":10601,"f":26,"u":2601},{"s":10601,"f":25,"u":2501},{"s":10601,"f":24,"u":2401},{"s":10601,"f":23,"u":2301},{"s":10601,"f":22,"u":2201},{"s":10601,"f":21,"u":2101},{"s":10601,"f":20,"u":2001},{"s":10601,"f":19,"u":1901},{"s":10601,"f":18,"u":1801},{"s":10601,"f":17,"u":1701},{"s":10601,"f":16,"u":1601},{"s":10601,"f":15,"u":1501},{"s":10601,"f":14,"u":1401},{"s":10601,"f":13,"u":1301},{"s":10601,"f":12,"u":1201},{"s":10601,"f":11,"u":1101},{"s":10601,"f":10,"u":1001},{"s":10601,"f":9,"u":901},{"s":10601,"f":8,"u":801},{"s":10601,"f":7,"u":701},{"s":10601,"f":6,"u":601},{"s":10601,"f":5,"u":501},{"s":10601,"f":4,"u":401},{"s":10601,"f":3,"u":301},{"s":10601,"f":2,"u":201},{"s":10601,"f":1,"k":"P"},
{"s":10602,"f":36,"u":3602},{"s":10602,"f":35,"u":3502},{"s":10602,"f":34,"u":3402},{"s":10602,"f":33,"u":3302},{"s":10602,"f":32,"u":3202},{"s":10602,"f":31,"u":3102},{"s":10602,"f":30,"u":3002},{"s":10602,"f":29,"u":2902},{"s":10602,"f":28,"u":2802},{"s":10602,"f":27,"u":2702},{"s":10602,"f":26,"u":2602},{"s":10602,"f":25,"u":2502},{"s":10602,"f":24,"u":2402},{"s":10602,"f":23,"u":2302},{"s":10602,"f":22,"u":2202},{"s":10602,"f":21,"u":2102},{"s":10602,"f":20,"u":2002},{"s":10602,"f":19,"u":1902},{"s":10602,"f":18,"u":1802},{"s":10602,"f":17,"u":1702},{"s":10602,"f":16,"u":1602},{"s":10602,"f":15,"u":1502},{"s":10602,"f":14,"u":1402},{"s":10602,"f":13,"u":1302},{"s":10602,"f":12,"u":1202},{"s":10602,"f":11,"u":1102},{"s":10602,"f":10,"u":1002},{"s":10602,"f":9,"u":902},{"s":10602,"f":8,"u":802},{"s":10602,"f":7,"u":702},{"s":10602,"f":6,"u":602},{"s":10602,"f":5,"u":502},{"s":10602,"f":4,"u":402},{"s":10602,"f":3,"u":302},{"s":10602,"f":2,"u":202},{"s":10602,"f":1,"k":"P"},
{"s":10603,"f":36,"u":3603},{"s":10603,"f":35,"u":3503},{"s":10603,"f":34,"u":3403},{"s":10603,"f":33,"u":3303},{"s":10603,"f":32,"u":3203},{"s":10603,"f":31,"u":3103},{"s":10603,"f":30,"u":3003,"k":"G"},{"s":10603,"f":29,"u":2903},{"s":10603,"f":28,"u":2803},{"s":10603,"f":27,"u":2703},{"s":10603,"f":26,"u":2603},{"s":10603,"f":25,"u":2503},{"s":10603,"f":24,"u":2403},{"s":10603,"f":23,"u":2303},{"s":10603,"f":22,"u":2203},{"s":10603,"f":21,"u":2103},{"s":10603,"f":20,"u":2003},{"s":10603,"f":19,"u":1903},{"s":10603,"f":18,"u":1803},{"s":10603,"f":17,"u":1703},{"s":10603,"f":16,"u":1603},{"s":10603,"f":15,"u":1503},{"s":10603,"f":14,"u":1403},{"s":10603,"f":13,"u":1303},{"s":10603,"f":12,"u":1203},{"s":10603,"f":11,"u":1103},{"s":10603,"f":10,"u":1003},{"s":10603,"f":9,"u":903},{"s":10603,"f":8,"u":803},{"s":10603,"f":7,"u":703},{"s":10603,"f":6,"u":603},{"s":10603,"f":5,"u":503},{"s":10603,"f":4,"u":403},{"s":10603,"f":3,"u":303},{"s":10603,"f":2,"u":203},{"s":10603,"f":1,"k":"P"},
{"s":10604,"f":36,"u":3604,"k":"G"},{"s":10604,"f":35,"u":3504},{"s":10604,"f":34,"u":3404},{"s":10604,"f":33,"u":3304},{"s":10604,"f":32,"u":3204},{"s":10604,"f":31,"u":3104},{"s":10604,"f":30,"u":3004},{"s":10604,"f":29,"u":2904},{"s":10604,"f":28,"u":2804},{"s":10604,"f":27,"u":2704},{"s":10604,"f":26,"u":2604},{"s":10604,"f":25,"u":2504},{"s":10604,"f":24,"u":2404},{"s":10604,"f":23,"u":2304},{"s":10604,"f":22,"u":2204},{"s":10604,"f":21,"u":2104},{"s":10604,"f":20,"u":2004},{"s":10604,"f":19,"u":1904},{"s":10604,"f":18,"u":1804},{"s":10604,"f":17,"u":1704},{"s":10604,"f":16,"u":1604},{"s":10604,"f":15,"u":1504},{"s":10604,"f":14,"u":1404},{"s":10604,"f":13,"u":1304},{"s":10604,"f":12,"u":1204},{"s":10604,"f":11,"u":1104},{"s":10604,"f":10,"u":1004},{"s":10604,"f":9,"u":904},{"s":10604,"f":8,"u":804},{"s":10604,"f":7,"u":704},{"s":10604,"f":6,"u":604},{"s":10604,"f":5,"u":504},{"s":10604,"f":4,"u":404},{"s":10604,"f":3,"u":304},{"s":10604,"f":2,"u":204},{"s":10604,"f":1,"k":"P"},
{"s":10605,"f":36,"u":3605},{"s":10605,"f":35,"u":3505},{"s":10605,"f":34,"u":3405},{"s":10605,"f":33,"u":3305},{"s":10605,"f":32,"u":3205},{"s":10605,"f":31,"u":3105},{"s":10605,"f":30,"u":3005},{"s":10605,"f":29,"u":2905},{"s":10605,"f":28,"u":2805},{"s":10605,"f":27,"u":2705},{"s":10605,"f":26,"u":2605},{"s":10605,"f":25,"u":2505},{"s":10605,"f":24,"u":2405},{"s":10605,"f":23,"u":2305},{"s":10605,"f":22,"u":2205},{"s":10605,"f":21,"u":2105},{"s":10605,"f":20,"u":2005},{"s":10605,"f":19,"u":1905},{"s":10605,"f":18,"u":1805},{"s":10605,"f":17,"u":1705},{"s":10605,"f":16,"u":1605},{"s":10605,"f":15,"u":1505},{"s":10605,"f":14,"u":1405},{"s":10605,"f":13,"u":1305},{"s":10605,"f":12,"u":1205},{"s":10605,"f":11,"u":1105},{"s":10605,"f":10,"u":1005},{"s":10605,"f":9,"u":905},{"s":10605,"f":8,"u":805},{"s":10605,"f":7,"u":705},{"s":10605,"f":6,"u":605},{"s":10605,"f":5,"u":505},{"s":10605,"f":4,"u":405},{"s":10605,"f":3,"u":305},{"s":10605,"f":2,"u":205},{"s":10605,"f":1,"k":"P"},
{"s":10701,"f":36,"u":3601,"k":"G"},{"s":10701,"f":35,"u":3501},{"s":10701,"f":34,"u":3401},{"s":10701,"f":33,"u":3301},{"s":10701,"f":32,"u":3201},{"s":10701,"f":31,"u":3101},{"s":10701,"f":30,"u":3001},{"s":10701,"f":29,"u":2901,"k":"G"},{"s":10701,"f":28,"u":2801},{"s":10701,"f":27,"u":2701,"k":"G"},{"s":10701,"f":26,"u":2601},{"s":10701,"f":25,"u":2501},{"s":10701,"f":24,"u":2401},{"s":10701,"f":23,"u":2301},{"s":10701,"f":22,"u":2201},{"s":10701,"f":21,"u":2101},{"s":10701,"f":20,"u":2001},{"s":10701,"f":19,"u":1901},{"s":10701,"f":18,"u":1801},{"s":10701,"f":17,"u":1701},{"s":10701,"f":16,"u":1601},{"s":10701,"f":15,"u":1501},{"s":10701,"f":14,"u":1401},{"s":10701,"f":13,"u":1301},{"s":10701,"f":12,"u":1201},{"s":10701,"f":11,"u":1101},{"s":10701,"f":10,"u":1001},{"s":10701,"f":9,"u":901},{"s":10701,"f":8,"u":801},{"s":10701,"f":7,"u":701},{"s":10701,"f":6,"u":601},{"s":10701,"f":5,"u":501},{"s":10701,"f":4,"u":401},{"s":10701,"f":3,"u":301},{"s":10701,"f":2,"u":201},{"s":10701,"f":1,"k":"P"},
{"s":10702,"f":36,"u":3602},{"s":10702,"f":35,"u":3502},{"s":10702,"f":34,"u":3402},{"s":10702,"f":33,"u":3302},{"s":10702,"f":32,"u":3202},{"s":10702,"f":31,"u":3102},{"s":10702,"f":30,"u":3002},{"s":10702,"f":29,"u":2902},{"s":10702,"f":28,"u":2802},{"s":10702,"f":27,"u":2702},{"s":10702,"f":26,"u":2602},{"s":10702,"f":25,"u":2502},{"s":10702,"f":24,"u":2402},{"s":10702,"f":23,"u":2302},{"s":10702,"f":22,"u":2202},{"s":10702,"f":21,"u":2102},{"s":10702,"f":20,"u":2002},{"s":10702,"f":19,"u":1902},{"s":10702,"f":18,"u":1802},{"s":10702,"f":17,"u":1702},{"s":10702,"f":16,"u":1602},{"s":10702,"f":15,"u":1502},{"s":10702,"f":14,"u":1402},{"s":10702,"f":13,"u":1302},{"s":10702,"f":12,"u":1202},{"s":10702,"f":11,"u":1102},{"s":10702,"f":10,"u":1002},{"s":10702,"f":9,"u":902},{"s":10702,"f":8,"u":802},{"s":10702,"f":7,"u":702},{"s":10702,"f":6,"u":602},{"s":10702,"f":5,"u":502},{"s":10702,"f":4,"u":402},{"s":10702,"f":3,"u":302},{"s":10702,"f":2,"u":202},{"s":10702,"f":1,"k":"P"},
{"s":10703,"f":36,"u":3603,"k":"G"},{"s":10703,"f":35,"u":3503},{"s":10703,"f":34,"u":3403},{"s":10703,"f":33,"u":3303},{"s":10703,"f":32,"u":3203},{"s":10703,"f":31,"u":3103},{"s":10703,"f":30,"u":3003},{"s":10703,"f":29,"u":2903},{"s":10703,"f":28,"u":2803},{"s":10703,"f":27,"u":2703},{"s":10703,"f":26,"u":2603},{"s":10703,"f":25,"u":2503},{"s":10703,"f":24,"u":2403},{"s":10703,"f":23,"u":2303},{"s":10703,"f":22,"u":2203},{"s":10703,"f":21,"u":2103},{"s":10703,"f":20,"u":2003},{"s":10703,"f":19,"u":1903},{"s":10703,"f":18,"u":1803},{"s":10703,"f":17,"u":1703},{"s":10703,"f":16,"u":1603},{"s":10703,"f":15,"u":1503},{"s":10703,"f":14,"u":1403},{"s":10703,"f":13,"u":1303},{"s":10703,"f":12,"u":1203},{"s":10703,"f":11,"u":1103},{"s":10703,"f":10,"u":1003},{"s":10703,"f":9,"u":903},{"s":10703,"f":8,"u":803},{"s":10703,"f":7,"u":703},{"s":10703,"f":6,"u":603},{"s":10703,"f":5,"u":503},{"s":10703,"f":4,"u":403},{"s":10703,"f":3,"u":303},{"s":10703,"f":2,"u":203},{"s":10703,"f":1,"k":"P"},
{"s":10704,"f":36,"u":3604},{"s":10704,"f":35,"u":3504},{"s":10704,"f":34,"u":3404},{"s":10704,"f":33,"u":3304},{"s":10704,"f":32,"u":3204},{"s":10704,"f":31,"u":3104},{"s":10704,"f":30,"u":3004},{"s":10704,"f":29,"u":2904},{"s":10704,"f":28,"u":2804},{"s":10704,"f":27,"u":2704},{"s":10704,"f":26,"u":2604},{"s":10704,"f":25,"u":2504},{"s":10704,"f":24,"u":2404},{"s":10704,"f":23,"u":2304},{"s":10704,"f":22,"u":2204},{"s":10704,"f":21,"u":2104},{"s":10704,"f":20,"u":2004},{"s":10704,"f":19,"u":1904},{"s":10704,"f":18,"u":1804},{"s":10704,"f":17,"u":1704},{"s":10704,"f":16,"u":1604},{"s":10704,"f":15,"u":1504},{"s":10704,"f":14,"u":1404},{"s":10704,"f":13,"u":1304},{"s":10704,"f":12,"u":1204},{"s":10704,"f":11,"u":1104},{"s":10704,"f":10,"u":1004},{"s":10704,"f":9,"u":904},{"s":10704,"f":8,"u":804},{"s":10704,"f":7,"u":704},{"s":10704,"f":6,"u":604},{"s":10704,"f":5,"u":504},{"s":10704,"f":4,"u":404},{"s":10704,"f":3,"u":304},{"s":10704,"f":2,"u":204},{"s":10704,"f":1,"k":"P"},
{"s":10705,"f":36,"u":3605},{"s":10705,"f":35,"u":3505},{"s":10705,"f":34,"u":3405},{"s":10705,"f":33,"u":3305},{"s":10705,"f":32,"u":3205},{"s":10705,"f":31,"u":3105},{"s":10705,"f":30,"u":3005},{"s":10705,"f":29,"u":2905},{"s":10705,"f":28,"u":2805},{"s":10705,"f":27,"u":2705},{"s":10705,"f":26,"u":2605},{"s":10705,"f":25,"u":2505},{"s":10705,"f":24,"u":2405},{"s":10705,"f":23,"u":2305},{"s":10705,"f":22,"u":2205},{"s":10705,"f":21,"u":2105},{"s":10705,"f":20,"u":2005},{"s":10705,"f":19,"u":1905},{"s":10705,"f":18,"u":1805},{"s":10705,"f":17,"u":1705},{"s":10705,"f":16,"u":1605},{"s":10705,"f":15,"u":1505},{"s":10705,"f":14,"u":1405},{"s":10705,"f":13,"u":1305},{"s":10705,"f":12,"u":1205},{"s":10705,"f":11,"u":1105},{"s":10705,"f":10,"u":1005},{"s":10705,"f":9,"u":905},{"s":10705,"f":8,"u":805},{"s":10705,"f":7,"u":705},{"s":10705,"f":6,"u":605},{"s":10705,"f":5,"u":505},{"s":10705,"f":4,"u":405},{"s":10705,"f":3,"u":305},{"s":10705,"f":2,"u":205},{"s":10705,"f":1,"k":"P"}
],
"r3":[
{"s":10801,"f":36,"u":3601},{"s":10801,"f":35,"u":3501},{"s":10801,"f":34,"u":3401},{"s":10801,"f":33,"u":3301},{"s":10801,"f":32,"u":3201},{"s":10801,"f":31,"u":3101},{"s":10801,"f":30,"u":3001},{"s":10801,"f":29,"u":2901},{"s":10801,"f":28,"u":2801},{"s":10801,"f":27,"u":2701},{"s":10801,"f":26,"u":2601},{"s":10801,"f":25,"u":2501},{"s":10801,"f":24,"u":2401},{"s":10801,"f":23,"u":2301},{"s":10801,"f":22,"u":2201},{"s":10801,"f":21,"u":2101},{"s":10801,"f":20,"u":2001},{"s":10801,"f":19,"u":1901},{"s":10801,"f":18,"u":1801},{"s":10801,"f":17,"u":1701},{"s":10801,"f":16,"u":1601},{"s":10801,"f":15,"u":1501},{"s":10801,"f":14,"u":1401},{"s":10801,"f":13,"u":1301},{"s":10801,"f":12,"u":1201},{"s":10801,"f":11,"u":1101},{"s":10801,"f":10,"u":1001},{"s":10801,"f":9,"u":901},{"s":10801,"f":8,"u":801},{"s":10801,"f":7,"u":701},{"s":10801,"f":6,"u":601},{"s":10801,"f":5,"u":501},{"s":10801,"f":4,"u":401},{"s":10801,"f":3,"u":301},{"s":10801,"f":2,"u":201},{"s":10801,"f":1,"k":"P"},
{"s":10802,"f":36,"u":3602},{"s":10802,"f":35,"u":3502},{"s":10802,"f":34,"u":3402},{"s":10802,"f":33,"u":3302},{"s":10802,"f":32,"u":3202},{"s":10802,"f":31,"u":3102},{"s":10802,"f":30,"u":3002,"k":"G"},{"s":10802,"f":29,"u":2902},{"s":10802,"f":28,"u":2802},{"s":10802,"f":27,"u":2702},{"s":10802,"f":26,"u":2602},{"s":10802,"f":25,"u":2502},{"s":10802,"f":24,"u":2402},{"s":10802,"f":23,"u":2302},{"s":10802,"f":22,"u":2202},{"s":10802,"f":21,"u":2102},{"s":10802,"f":20,"u":2002},{"s":10802,"f":19,"u":1902},{"s":10802,"f":18,"u":1802},{"s":10802,"f":17,"u":1702},{"s":10802,"f":16,"u":1602},{"s":10802,"f":15,"u":1502},{"s":10802,"f":14,"u":1402},{"s":10802,"f":13,"u":1302},{"s":10802,"f":12,"u":1202},{"s":10802,"f":11,"u":1102},{"s":10802,"f":10,"u":1002},{"s":10802,"f":9,"u":902},{"s":10802,"f":8,"u":802},{"s":10802,"f":7,"u":702},{"s":10802,"f":6,"u":602},{"s":10802,"f":5,"u":502},{"s":10802,"f":4,"u":402},{"s":10802,"f":3,"u":302},{"s":10802,"f":2,"u":202},{"s":10802,"f":1,"k":"P"},
{"s":10803,"f":36,"u":3603},{"s":10803,"f":35,"u":3503},{"s":10803,"f":34,"u":3403},{"s":10803,"f":33,"u":3303},{"s":10803,"f":32,"u":3203},{"s":10803,"f":31,"u":3103},{"s":10803,"f":30,"u":3003},{"s":10803,"f":29,"u":2903},{"s":10803,"f":28,"u":2803},{"s":10803,"f":27,"u":2703},{"s":10803,"f":26,"u":2603},{"s":10803,"f":25,"u":2503},{"s":10803,"f":24,"u":2403},{"s":10803,"f":23,"u":2303},{"s":10803,"f":22,"u":2203},{"s":10803,"f":21,"u":2103},{"s":10803,"f":20,"u":2003},{"s":10803,"f":19,"u":1903},{"s":10803,"f":18,"u":1803},{"s":10803,"f":17,"u":1703},{"s":10803,"f":16,"u":1603},{"s":10803,"f":15,"u":1503},{"s":10803,"f":14,"u":1403},{"s":10803,"f":13,"u":1303},{"s":10803,"f":12,"u":1203},{"s":10803,"f":11,"u":1103},{"s":10803,"f":10,"u":1003},{"s":10803,"f":9,"u":903},{"s":10803,"f":8,"u":803},{"s":10803,"f":7,"u":703},{"s":10803,"f":6,"u":603},{"s":10803,"f":5,"u":503},{"s":10803,"f":4,"u":403},{"s":10803,"f":3,"u":303},{"s":10803,"f":2,"u":203},{"s":10803,"f":1,"k":"P"},
{"s":10804,"f":36,"u":3604},{"s":10804,"f":35,"u":3504},{"s":10804,"f":34,"u":3404},{"s":10804,"f":33,"u":3304},{"s":10804,"f":32,"u":3204},{"s":10804,"f":31,"u":3104},{"s":10804,"f":30,"u":3004},{"s":10804,"f":29,"u":2904},{"s":10804,"f":28,"u":2804},{"s":10804,"f":27,"u":2704},{"s":10804,"f":26,"u":2604},{"s":10804,"f":25,"u":2504},{"s":10804,"f":24,"u":2404},{"s":10804,"f":23,"u":2304},{"s":10804,"f":22,"u":2204},{"s":10804,"f":21,"u":2104},{"s":10804,"f":20,"u":2004},{"s":10804,"f":19,"u":1904},{"s":10804,"f":18,"u":1804},{"s":10804,"f":17,"u":1704},{"s":10804,"f":16,"u":1604},{"s":10804,"f":15,"u":1504},{"s":10804,"f":14,"u":1404},{"s":10804,"f":13,"u":1304},{"s":10804,"f":12,"u":1204},{"s":10804,"f":11,"u":1104},{"s":10804,"f":10,"u":1004},{"s":10804,"f":9,"u":904},{"s":10804,"f":8,"u":804},{"s":10804,"f":7,"u":704},{"s":10804,"f":6,"u":604},{"s":10804,"f":5,"u":504},{"s":10804,"f":4,"u":404},{"s":10804,"f":3,"u":304},{"s":10804,"f":2,"u":204},{"s":10804,"f":1,"k":"P"},
{"s":10805,"f":36,"u":3605},{"s":10805,"f":35,"u":3505},{"s":10805,"f":34,"u":3405},{"s":10805,"f":33,"u":3305},{"s":10805,"f":32,"u":3205},{"s":10805,"f":31,"u":3105},{"s":10805,"f":30,"u":3005},{"s":10805,"f":29,"u":2905},{"s":10805,"f":28,"u":2805},{"s":10805,"f":27,"u":2705},{"s":10805,"f":26,"u":2605},{"s":10805,"f":25,"u":2505},{"s":10805,"f":24,"u":2405},{"s":10805,"f":23,"u":2305},{"s":10805,"f":22,"u":2205},{"s":10805,"f":21,"u":2105},{"s":10805,"f":20,"u":2005},{"s":10805,"f":19,"u":1905},{"s":10805,"f":18,"u":1805},{"s":10805,"f":17,"u":1705},{"s":10805,"f":16,"u":1605},{"s":10805,"f":15,"u":1505},{"s":10805,"f":14,"u":1405},{"s":10805,"f":13,"u":1305},{"s":10805,"f":12,"u":1205},{"s":10805,"f":11,"u":1105},{"s":10805,"f":10,"u":1005},{"s":10805,"f":9,"u":905},{"s":10805,"f":8,"u":805},{"s":10805,"f":7,"u":705},{"s":10805,"f":6,"u":605},{"s":10805,"f":5,"u":505},{"s":10805,"f":4,"u":405},{"s":10805,"f":3,"u":305},{"s":10805,"f":2,"u":205},{"s":10805,"f":1,"k":"P"},
{"s":10806,"f":33,"u":3306},{"s":10806,"f":32,"u":3206},{"s":10806,"f":31,"u":3106},{"s":10806,"f":30,"u":3006},{"s":10806,"f":29,"u":2906},{"s":10806,"f":28,"u":2806},{"s":10806,"f":27,"u":2706},{"s":10806,"f":26,"u":2606},{"s":10806,"f":25,"u":2506},{"s":10806,"f":24,"u":2406},{"s":10806,"f":23,"u":2306},{"s":10806,"f":22,"u":2206},{"s":10806,"f":21,"u":2106},{"s":10806,"f":20,"u":2006},{"s":10806,"f":19,"u":1906},{"s":10806,"f":18,"u":1806},{"s":10806,"f":17,"u":1706},{"s":10806,"f":16,"u":1606},{"s":10806,"f":15,"u":1506},{"s":10806,"f":14,"u":1406},{"s":10806,"f":13,"u":1306},{"s":10806,"f":12,"u":1206},{"s":10806,"f":11,"u":1106},{"s":10806,"f":10,"u":1006},{"s":10806,"f":9,"u":906},{"s":10806,"f":8,"u":806},{"s":10806,"f":7,"u":706},{"s":10806,"f":6,"u":606},{"s":10806,"f":5,"u":506},{"s":10806,"f":4,"u":406},{"s":10806,"f":3,"u":306},{"s":10806,"f":2,"u":206},{"s":10806,"f":1,"k":"P"},
{"s":10901,"f":36,"u":3601},{"s":10901,"f":35,"u":3501},{"s":10901,"f":34,"u":3401},{"s":10901,"f":33,"u":3301},{"s":10901,"f":32,"u":3201},{"s":10901,"f":31,"u":3101},{"s":10901,"f":30,"u":3001},{"s":10901,"f":29,"u":2901},{"s":10901,"f":28,"u":2801},{"s":10901,"f":27,"u":2701},{"s":10901,"f":26,"u":2601},{"s":10901,"f":25,"u":2501},{"s":10901,"f":24,"u":2401},{"s":10901,"f":23,"u":2301},{"s":10901,"f":22,"u":2201},{"s":10901,"f":21,"u":2101},{"s":10901,"f":20,"u":2001},{"s":10901,"f":19,"u":1901},{"s":10901,"f":18,"u":1801},{"s":10901,"f":17,"u":1701},{"s":10901,"f":16,"u":1601},{"s":10901,"f":15,"u":1501},{"s":10901,"f":14,"u":1401},{"s":10901,"f":13,"u":1301},{"s":10901,"f":12,"u":1201},{"s":10901,"f":11,"u":1101},{"s":10901,"f":10,"u":1001},{"s":10901,"f":9,"u":901},{"s":10901,"f":8,"u":801},{"s":10901,"f":7,"u":701},{"s":10901,"f":6,"u":601},{"s":10901,"f":5,"u":501},{"s":10901,"f":4,"u":401},{"s":10901,"f":3,"u":301},{"s":10901,"f":2,"u":201},{"s":10901,"f":1,"k":"P"},
{"s":10902,"f":36,"u":3602},{"s":10902,"f":35,"u":3502},{"s":10902,"f":34,"u":3402},{"s":10902,"f":33,"u":3302},{"s":10902,"f":32,"u":3202},{"s":10902,"f":31,"u":3102},{"s":10902,"f":30,"u":3002},{"s":10902,"f":29,"u":2902},{"s":10902,"f":28,"u":2802},{"s":10902,"f":27,"u":2702},{"s":10902,"f":26,"u":2602},{"s":10902,"f":25,"u":2502},{"s":10902,"f":24,"u":2402},{"s":10902,"f":23,"u":2302},{"s":10902,"f":22,"u":2202},{"s":10902,"f":21,"u":2102},{"s":10902,"f":20,"u":2002},{"s":10902,"f":19,"u":1902},{"s":10902,"f":18,"u":1802},{"s":10902,"f":17,"u":1702},{"s":10902,"f":16,"u":1602},{"s":10902,"f":15,"u":1502},{"s":10902,"f":14,"u":1402},{"s":10902,"f":13,"u":1302},{"s":10902,"f":12,"u":1202},{"s":10902,"f":11,"u":1102},{"s":10902,"f":10,"u":1002},{"s":10902,"f":9,"u":902},{"s":10902,"f":8,"u":802},{"s":10902,"f":7,"u":702},{"s":10902,"f":6,"u":602},{"s":10902,"f":5,"u":502},{"s":10902,"f":4,"u":402},{"s":10902,"f":3,"u":302},{"s":10902,"f":2,"u":202},{"s":10902,"f":1,"k":"P"},
{"s":10903,"f":36,"u":3603},{"s":10903,"f":35,"u":3503},{"s":10903,"f":34,"u":3403},{"s":10903,"f":33,"u":3303},{"s":10903,"f":32,"u":3203},{"s":10903,"f":31,"u":3103},{"s":10903,"f":30,"u":3003},{"s":10903,"f":29,"u":2903},{"s":10903,"f":28,"u":2803},{"s":10903,"f":27,"u":2703},{"s":10903,"f":26,"u":2603},{"s":10903,"f":25,"u":2503},{"s":10903,"f":24,"u":2403},{"s":10903,"f":23,"u":2303},{"s":10903,"f":22,"u":2203},{"s":10903,"f":21,"u":2103},{"s":10903,"f":20,"u":2003},{"s":10903,"f":19,"u":1903},{"s":10903,"f":18,"u":1803},{"s":10903,"f":17,"u":1703},{"s":10903,"f":16,"u":1603},{"s":10903,"f":15,"u":1503},{"s":10903,"f":14,"u":1403},{"s":10903,"f":13,"u":1303},{"s":10903,"f":12,"u":1203},{"s":10903,"f":11,"u":1103},{"s":10903,"f":10,"u":1003},{"s":10903,"f":9,"u":903},{"s":10903,"f":8,"u":803},{"s":10903,"f":7,"u":703},{"s":10903,"f":6,"u":603},{"s":10903,"f":5,"u":503},{"s":10903,"f":4,"u":403},{"s":10903,"f":3,"u":303},{"s":10903,"f":2,"u":203},{"s":10903,"f":1,"k":"P"},
{"s":10904,"f":36,"u":3604},{"s":10904,"f":35,"u":3504,"k":"G"},{"s":10904,"f":34,"u":3404},{"s":10904,"f":33,"u":3304},{"s":10904,"f":32,"u":3204},{"s":10904,"f":31,"u":3104},{"s":10904,"f":30,"u":3004},{"s":10904,"f":29,"u":2904},{"s":10904,"f":28,"u":2804},{"s":10904,"f":27,"u":2704},{"s":10904,"f":26,"u":2604},{"s":10904,"f":25,"u":2504},{"s":10904,"f":24,"u":2404},{"s":10904,"f":23,"u":2304},{"s":10904,"f":22,"u":2204},{"s":10904,"f":21,"u":2104},{"s":10904,"f":20,"u":2004},{"s":10904,"f":19,"u":1904},{"s":10904,"f":18,"u":1804},{"s":10904,"f":17,"u":1704},{"s":10904,"f":16,"u":1604},{"s":10904,"f":15,"u":1504},{"s":10904,"f":14,"u":1404},{"s":10904,"f":13,"u":1304},{"s":10904,"f":12,"u":1204},{"s":10904,"f":11,"u":1104},{"s":10904,"f":10,"u":1004},{"s":10904,"f":9,"u":904},{"s":10904,"f":8,"u":804},{"s":10904,"f":7,"u":704},{"s":10904,"f":6,"u":604},{"s":10904,"f":5,"u":504},{"s":10904,"f":4,"u":404},{"s":10904,"f":3,"u":304},{"s":10904,"f":2,"u":204},{"s":10904,"f":1,"k":"P"},
{"s":11001,"f":36,"u":3601,"k":"G"},{"s":11001,"f":35,"u":3501},{"s":11001,"f":34,"u":3401},{"s":11001,"f":33,"u":3301},{"s":11001,"f":32,"u":3201},{"s":11001,"f":31,"u":3101},{"s":11001,"f":30,"u":3001},{"s":11001,"f":29,"u":2901},{"s":11001,"f":28,"u":2801},{"s":11001,"f":27,"u":2701},{"s":11001,"f":26,"u":2601},{"s":11001,"f":25,"u":2501},{"s":11001,"f":24,"u":2401},{"s":11001,"f":23,"u":2301},{"s":11001,"f":22,"u":2201},{"s":11001,"f":21,"u":2101},{"s":11001,"f":20,"u":2001},{"s":11001,"f":19,"u":1901},{"s":11001,"f":18,"u":1801},{"s":11001,"f":17,"u":1701},{"s":11001,"f":16,"u":1601},{"s":11001,"f":15,"u":1501},{"s":11001,"f":14,"u":1401},{"s":11001,"f":13,"u":1301},{"s":11001,"f":12,"u":1201},{"s":11001,"f":11,"u":1101},{"s":11001,"f":10,"u":1001},{"s":11001,"f":9,"u":901},{"s":11001,"f":8,"u":801},{"s":11001,"f":7,"u":701},{"s":11001,"f":6,"u":601},{"s":11001,"f":5,"u":501},{"s":11001,"f":4,"u":401},{"s":11001,"f":3,"u":301},{"s":11001,"f":2,"u":201},{"s":11001,"f":1,"u":101},
{"s":11002,"f":36,"u":3602},{"s":11002,"f":35,"u":3502},{"s":11002,"f":34,"u":3402},{"s":11002,"f":33,"u":3302},{"s":11002,"f":32,"u":3202},{"s":11002,"f":31,"u":3102},{"s":11002,"f":30,"u":3002},{"s":11002,"f":29,"u":2902},{"s":11002,"f":28,"u":2802},{"s":11002,"f":27,"u":2702},{"s":11002,"f":26,"u":2602},{"s":11002,"f":25,"u":2502},{"s":11002,"f":24,"u":2402},{"s":11002,"f":23,"u":2302},{"s":11002,"f":22,"u":2202},{"s":11002,"f":21,"u":2102},{"s":11002,"f":20,"u":2002},{"s":11002,"f":19,"u":1902},{"s":11002,"f":18,"u":1802},{"s":11002,"f":17,"u":1702},{"s":11002,"f":16,"u":1602},{"s":11002,"f":15,"u":1502},{"s":11002,"f":14,"u":1402},{"s":11002,"f":13,"u":1302},{"s":11002,"f":12,"u":1202},{"s":11002,"f":11,"u":1102},{"s":11002,"f":10,"u":1002},{"s":11002,"f":9,"u":902},{"s":11002,"f":8,"u":802},{"s":11002,"f":7,"u":702},{"s":11002,"f":6,"u":602},{"s":11002,"f":5,"u":502},{"s":11002,"f":4,"u":402},{"s":11002,"f":3,"u":302},{"s":11002,"f":2,"u":202},{"s":11002,"f":1,"u":102},
{"s":11003,"f":33,"u":3303},{"s":11003,"f":32,"u":3203},{"s":11003,"f":31,"u":3103},{"s":11003,"f":30,"u":3003},{"s":11003,"f":29,"u":2903},{"s":11003,"f":28,"u":2803},{"s":11003,"f":27,"u":2703},{"s":11003,"f":26,"u":2603},{"s":11003,"f":25,"u":2503},{"s":11003,"f":24,"u":2403},{"s":11003,"f":23,"u":2303},{"s":11003,"f":22,"u":2203},{"s":11003,"f":21,"u":2103},{"s":11003,"f":20,"u":2003},{"s":11003,"f":19,"u":1903},{"s":11003,"f":18,"u":1803},{"s":11003,"f":17,"u":1703},{"s":11003,"f":16,"u":1603},{"s":11003,"f":15,"u":1503},{"s":11003,"f":14,"u":1403},{"s":11003,"f":13,"u":1303},{"s":11003,"f":12,"u":1203},{"s":11003,"f":11,"u":1103},{"s":11003,"f":10,"u":1003},{"s":11003,"f":9,"u":903},{"s":11003,"f":8,"u":803},{"s":11003,"f":7,"u":703},{"s":11003,"f":6,"u":603},{"s":11003,"f":5,"u":503},{"s":11003,"f":4,"u":403},{"s":11003,"f":3,"u":303},{"s":11003,"f":2,"u":203},{"s":11003,"f":1,"k":"P"},
{"s":11004,"f":27,"u":2704},{"s":11004,"f":26,"u":2604},{"s":11004,"f":25,"u":2504},{"s":11004,"f":24,"u":2404},{"s":11004,"f":23,"u":2304},{"s":11004,"f":22,"u":2204},{"s":11004,"f":21,"u":2104},{"s":11004,"f":20,"u":2004},{"s":11004,"f":19,"u":1904},{"s":11004,"f":18,"u":1804},{"s":11004,"f":17,"u":1704},{"s":11004,"f":16,"u":1604},{"s":11004,"f":15,"u":1504},{"s":11004,"f":14,"u":1404},{"s":11004,"f":13,"u":1304},{"s":11004,"f":12,"u":1204},{"s":11004,"f":11,"u":1104},{"s":11004,"f":10,"u":1004},{"s":11004,"f":9,"u":904},{"s":11004,"f":8,"u":804},{"s":11004,"f":7,"u":704},{"s":11004,"f":6,"u":604},{"s":11004,"f":5,"u":504},{"s":11004,"f":4,"u":404},{"s":11004,"f":3,"u":304},{"s":11004,"f":2,"u":204},{"s":11004,"f":1,"k":"P"},
{"s":11005,"f":18,"u":1805},{"s":11005,"f":17,"u":1705},{"s":11005,"f":16,"u":1605},{"s":11005,"f":15,"u":1505},{"s":11005,"f":14,"u":1405},{"s":11005,"f":13,"u":1305},{"s":11005,"f":12,"u":1205},{"s":11005,"f":11,"u":1105},{"s":11005,"f":10,"u":1005},{"s":11005,"f":9,"u":905},{"s":11005,"f":8,"u":805},{"s":11005,"f":7,"u":705},{"s":11005,"f":6,"u":605},{"s":11005,"f":5,"u":505},{"s":11005,"f":4,"u":405},{"s":11005,"f":3,"u":305},{"s":11005,"f":2,"u":205},{"s":11005,"f":1,"u":105},
{"s":11101,"f":34,"u":3401},{"s":11101,"f":33,"u":3301},{"s":11101,"f":32,"u":3201},{"s":11101,"f":31,"u":3101},{"s":11101,"f":30,"u":3001},{"s":11101,"f":29,"u":2901},{"s":11101,"f":28,"u":2801},{"s":11101,"f":27,"u":2701},{"s":11101,"f":26,"u":2601},{"s":11101,"f":25,"u":2501},{"s":11101,"f":24,"u":2401},{"s":11101,"f":23,"u":2301},{"s":11101,"f":22,"u":2201},{"s":11101,"f":21,"u":2101},{"s":11101,"f":20,"u":2001},{"s":11101,"f":19,"u":1901},{"s":11101,"f":18,"u":1801},{"s":11101,"f":17,"u":1701},{"s":11101,"f":16,"u":1601},{"s":11101,"f":15,"u":1501},{"s":11101,"f":14,"u":1401},{"s":11101,"f":13,"u":1301},{"s":11101,"f":12,"u":1201},{"s":11101,"f":11,"u":1101},{"s":11101,"f":10,"u":1001},{"s":11101,"f":9,"u":901},{"s":11101,"f":8,"u":801},{"s":11101,"f":7,"u":701},{"s":11101,"f":6,"u":601},{"s":11101,"f":5,"u":501},{"s":11101,"f":4,"u":401},{"s":11101,"f":3,"u":301},{"s":11101,"f":2,"u":201},{"s":11101,"f":1,"k":"P"},
{"s":11102,"f":36,"u":3602},{"s":11102,"f":35,"u":3502},{"s":11102,"f":34,"u":3402},{"s":11102,"f":33,"u":3302},{"s":11102,"f":32,"u":3202},{"s":11102,"f":31,"u":3102},{"s":11102,"f":30,"u":3002},{"s":11102,"f":29,"u":2902},{"s":11102,"f":28,"u":2802},{"s":11102,"f":27,"u":2702},{"s":11102,"f":26,"u":2602},{"s":11102,"f":25,"u":2502},{"s":11102,"f":24,"u":2402},{"s":11102,"f":23,"u":2302},{"s":11102,"f":22,"u":2202},{"s":11102,"f":21,"u":2102},{"s":11102,"f":20,"u":2002},{"s":11102,"f":19,"u":1902},{"s":11102,"f":18,"u":1802},{"s":11102,"f":17,"u":1702},{"s":11102,"f":16,"u":1602},{"s":11102,"f":15,"u":1502},{"s":11102,"f":14,"u":1402},{"s":11102,"f":13,"u":1302},{"s":11102,"f":12,"u":1202},{"s":11102,"f":11,"u":1102},{"s":11102,"f":10,"u":1002},{"s":11102,"f":9,"u":902},{"s":11102,"f":8,"u":802},{"s":11102,"f":7,"u":702},{"s":11102,"f":6,"u":602},{"s":11102,"f":5,"u":502},{"s":11102,"f":4,"u":402},{"s":11102,"f":3,"u":302},{"s":11102,"f":2,"u":202},{"s":11102,"f":1,"k":"P"},
{"s":11103,"f":36,"u":3603},{"s":11103,"f":35,"u":3503},{"s":11103,"f":34,"u":3403},{"s":11103,"f":33,"u":3303},{"s":11103,"f":32,"u":3203},{"s":11103,"f":31,"u":3103},{"s":11103,"f":30,"u":3003},{"s":11103,"f":29,"u":2903},{"s":11103,"f":28,"u":2803},{"s":11103,"f":27,"u":2703},{"s":11103,"f":26,"u":2603},{"s":11103,"f":25,"u":2503},{"s":11103,"f":24,"u":2403},{"s":11103,"f":23,"u":2303},{"s":11103,"f":22,"u":2203},{"s":11103,"f":21,"u":2103},{"s":11103,"f":20,"u":2003},{"s":11103,"f":19,"u":1903},{"s":11103,"f":18,"u":1803},{"s":11103,"f":17,"u":1703},{"s":11103,"f":16,"u":1603},{"s":11103,"f":15,"u":1503},{"s":11103,"f":14,"u":1403},{"s":11103,"f":13,"u":1303},{"s":11103,"f":12,"u":1203},{"s":11103,"f":11,"u":1103},{"s":11103,"f":10,"u":1003},{"s":11103,"f":9,"u":903},{"s":11103,"f":8,"u":803},{"s":11103,"f":7,"u":703},{"s":11103,"f":6,"u":603},{"s":11103,"f":5,"u":503},{"s":11103,"f":4,"u":403},{"s":11103,"f":3,"u":303},{"s":11103,"f":2,"u":203},{"s":11103,"f":1,"k":"P"},
{"s":11104,"f":36,"u":3604},{"s":11104,"f":35,"u":3504},{"s":11104,"f":34,"u":3404},{"s":11104,"f":33,"u":3304},{"s":11104,"f":32,"u":3204},{"s":11104,"f":31,"u":3104},{"s":11104,"f":30,"u":3004},{"s":11104,"f":29,"u":2904},{"s":11104,"f":28,"u":2804},{"s":11104,"f":27,"u":2704},{"s":11104,"f":26,"u":2604},{"s":11104,"f":25,"u":2504},{"s":11104,"f":24,"u":2404},{"s":11104,"f":23,"u":2304},{"s":11104,"f":22,"u":2204},{"s":11104,"f":21,"u":2104},{"s":11104,"f":20,"u":2004},{"s":11104,"f":19,"u":1904},{"s":11104,"f":18,"u":1804},{"s":11104,"f":17,"u":1704},{"s":11104,"f":16,"u":1604},{"s":11104,"f":15,"u":1504},{"s":11104,"f":14,"u":1404},{"s":11104,"f":13,"u":1304},{"s":11104,"f":12,"u":1204},{"s":11104,"f":11,"u":1104},{"s":11104,"f":10,"u":1004},{"s":11104,"f":9,"u":904},{"s":11104,"f":8,"u":804},{"s":11104,"f":7,"u":704},{"s":11104,"f":6,"u":604},{"s":11104,"f":5,"u":504},{"s":11104,"f":4,"u":404},{"s":11104,"f":3,"u":304},{"s":11104,"f":2,"u":204},{"s":11104,"f":1,"k":"P"},
{"s":11105,"f":35,"u":3505},{"s":11105,"f":34,"u":3405},{"s":11105,"f":33,"u":3305},{"s":11105,"f":32,"u":3205},{"s":11105,"f":31,"u":3105},{"s":11105,"f":30,"u":3005},{"s":11105,"f":29,"u":2905},{"s":11105,"f":28,"u":2805},{"s":11105,"f":27,"u":2705},{"s":11105,"f":26,"u":2605},{"s":11105,"f":25,"u":2505},{"s":11105,"f":24,"u":2405},{"s":11105,"f":23,"u":2305},{"s":11105,"f":22,"u":2205},{"s":11105,"f":21,"u":2105},{"s":11105,"f":20,"u":2005},{"s":11105,"f":19,"u":1905},{"s":11105,"f":18,"u":1805},{"s":11105,"f":17,"u":1705},{"s":11105,"f":16,"u":1605},{"s":11105,"f":15,"u":1505},{"s":11105,"f":14,"u":1405},{"s":11105,"f":13,"u":1305},{"s":11105,"f":12,"u":1205},{"s":11105,"f":11,"u":1105},{"s":11105,"f":10,"u":1005},{"s":11105,"f":9,"u":905},{"s":11105,"f":8,"u":805},{"s":11105,"f":7,"u":705},{"s":11105,"f":6,"u":605},{"s":11105,"f":5,"u":505},{"s":11105,"f":4,"u":405},{"s":11105,"f":3,"u":305},{"s":11105,"f":2,"u":205},{"s":11105,"f":1,"k":"P"}
],
"r4":[
{"s":11201,"f":36,"u":3601},{"s":11201,"f":35,"u":3501},{"s":11201,"f":34,"u":3401},{"s":11201,"f":33,"u":3301},{"s":11201,"f":32,"u":3201},{"s":11201,"f":31,"u":3101},{"s":11201,"f":30,"u":3001},{"s":11201,"f":29,"u":2901},{"s":11201,"f":28,"u":2801},{"s":11201,"f":27,"u":2701},{"s":11201,"f":26,"u":2601},{"s":11201,"f":25,"u":2501},{"s":11201,"f":24,"u":2401},{"s":11201,"f":23,"u":2301},{"s":11201,"f":22,"u":2201},{"s":11201,"f":21,"u":2101},{"s":11201,"f":20,"u":2001},{"s":11201,"f":19,"u":1901},{"s":11201,"f":18,"u":1801},{"s":11201,"f":17,"u":1701},{"s":11201,"f":16,"u":1601},{"s":11201,"f":15,"u":1501},{"s":11201,"f":14,"u":1401},{"s":11201,"f":13,"u":1301},{"s":11201,"f":12,"u":1201},{"s":11201,"f":11,"u":1101},{"s":11201,"f":10,"u":1001},{"s":11201,"f":9,"u":901},{"s":11201,"f":8,"u":801},{"s":11201,"f":7,"u":701},{"s":11201,"f":6,"u":601},{"s":11201,"f":5,"u":501},{"s":11201,"f":4,"u":401},{"s":11201,"f":3,"u":301},{"s":11201,"f":2,"u":201},{"s":11201,"f":1,"k":"P"},
{"s":11202,"f":36,"u":3602},{"s":11202,"f":35,"u":3502},{"s":11202,"f":34,"u":3402},{"s":11202,"f":33,"u":3302},{"s":11202,"f":32,"u":3202},{"s":11202,"f":31,"u":3102},{"s":11202,"f":30,"u":3002},{"s":11202,"f":29,"u":2902},{"s":11202,"f":28,"u":2802},{"s":11202,"f":27,"u":2702},{"s":11202,"f":26,"u":2602},{"s":11202,"f":25,"u":2502},{"s":11202,"f":24,"u":2402},{"s":11202,"f":23,"u":2302},{"s":11202,"f":22,"u":2202},{"s":11202,"f":21,"u":2102},{"s":11202,"f":20,"u":2002},{"s":11202,"f":19,"u":1902},{"s":11202,"f":18,"u":1802},{"s":11202,"f":17,"u":1702},{"s":11202,"f":16,"u":1602},{"s":11202,"f":15,"u":1502},{"s":11202,"f":14,"u":1402},{"s":11202,"f":13,"u":1302},{"s":11202,"f":12,"u":1202},{"s":11202,"f":11,"u":1102},{"s":11202,"f":10,"u":1002},{"s":11202,"f":9,"u":902},{"s":11202,"f":8,"u":802},{"s":11202,"f":7,"u":702},{"s":11202,"f":6,"u":602},{"s":11202,"f":5,"u":502},{"s":11202,"f":4,"u":402},{"s":11202,"f":3,"u":302},{"s":11202,"f":2,"u":202},{"s":11202,"f":1,"k":"P"},
{"s":11203,"f":28,"u":2803},{"s":11203,"f":27,"u":2703},{"s":11203,"f":26,"u":2603},{"s":11203,"f":25,"u":2503},{"s":11203,"f":24,"u":2403},{"s":11203,"f":23,"u":2303},{"s":11203,"f":22,"u":2203},{"s":11203,"f":21,"u":2103},{"s":11203,"f":20,"u":2003},{"s":11203,"f":19,"u":1903},{"s":11203,"f":18,"u":1803},{"s":11203,"f":17,"u":1703},{"s":11203,"f":16,"u":1603},{"s":11203,"f":15,"u":1503},{"s":11203,"f":14,"u":1403},{"s":11203,"f":13,"u":1303},{"s":11203,"f":12,"u":1203},{"s":11203,"f":11,"u":1103},{"s":11203,"f":10,"u":1003},{"s":11203,"f":9,"u":903},{"s":11203,"f":8,"u":803},{"s":11203,"f":7,"u":703},{"s":11203,"f":6,"u":603},{"s":11203,"f":5,"u":503},{"s":11203,"f":4,"u":403},{"s":11203,"f":3,"u":303},{"s":11203,"f":2,"u":203},{"s":11203,"f":1,"k":"P"},
{"s":11204,"f":26,"u":2604},{"s":11204,"f":25,"u":2504},{"s":11204,"f":24,"u":2404},{"s":11204,"f":23,"u":2304},{"s":11204,"f":22,"u":2204},{"s":11204,"f":21,"u":2104},{"s":11204,"f":20,"u":2004},{"s":11204,"f":19,"u":1904},{"s":11204,"f":18,"u":1804},{"s":11204,"f":17,"u":1704},{"s":11204,"f":16,"u":1604},{"s":11204,"f":15,"u":1504},{"s":11204,"f":14,"u":1404},{"s":11204,"f":13,"u":1304},{"s":11204,"f":12,"u":1204},{"s":11204,"f":11,"u":1104},{"s":11204,"f":10,"u":1004},{"s":11204,"f":9,"u":904},{"s":11204,"f":8,"u":804},{"s":11204,"f":7,"u":704},{"s":11204,"f":6,"u":604},{"s":11204,"f":5,"u":504},{"s":11204,"f":4,"u":404},{"s":11204,"f":3,"u":304},{"s":11204,"f":2,"u":204},{"s":11204,"f":1,"k":"P"}
],
"cT1":[{"s":"T1-1","f":4,"u":401},{"s":"T1-2","f":4,"u":402},{"s":"T1-3","f":4,"u":403},{"s":"T1-4","f":4,"u":404},{"s":"T1-1","f":3,"u":301},{"s":"T1-2","f":3,"u":302},{"s":"T1-3","f":3,"u":303},{"s":"T1-4","f":3,"u":304},{"s":"T1-1","f":2,"u":201},{"s":"T1-2","f":2,"u":202},{"s":"T1-3","f":2,"u":203},{"s":"T1-4","f":2,"u":204},{"s":"T1-1","f":1,"u":101},{"s":"T1-2","f":1,"u":102},{"s":"T1-3","f":1,"u":103},{"s":"T1-4","f":1,"u":104}],
"cT2":[{"s":"T2-1","f":4,"u":401,"k":"G"},{"s":"T2-2","f":4,"u":402,"k":"G"},{"s":"T2-3","f":4,"u":403,"k":"G"},{"s":"T2-4","f":4,"u":404,"k":"G"},{"s":"T2-1","f":3,"u":301},{"s":"T2-2","f":3,"u":302},{"s":"T2-3","f":3,"u":303,"k":"G"},{"s":"T2-4","f":3,"u":304,"k":"G"},{"s":"T2-1","f":2,"u":201,"k":"G"},{"s":"T2-2","f":2,"u":202},{"s":"T2-3","f":2,"u":203},{"s":"T2-4","f":2,"u":204,"k":"G"},{"s":"T2-1","f":1,"u":101},{"s":"T2-2","f":1,"u":102},{"s":"T2-3","f":1,"u":103},{"s":"T2-4","f":1,"u":104}],
"cT3":[{"s":"T3-1","f":4,"u":401,"k":"G"},{"s":"T3-2","f":4,"u":402,"k":"G"},{"s":"T3-1","f":3,"u":301,"k":"G"},{"s":"T3-2","f":3,"u":302,"k":"G"},{"s":"T3-1","f":2,"u":201,"k":"G"},{"s":"T3-2","f":2,"u":202,"k":"G"},{"s":"T3-1","f":1,"u":101},{"s":"T3-2","f":1,"u":102}],
"cT4":[{"s":"T4-1","f":4,"u":401,"k":"G"},{"s":"T4-2","f":4,"u":402,"k":"G"},{"s":"T4-3","f":4,"u":403,"k":"G"},{"s":"T4-4","f":4,"u":404,"k":"G"},{"s":"T4-5","f":4,"u":405,"k":"G"},{"s":"T4-6","f":4,"u":406,"k":"G"},{"s":"T4-1","f":3,"u":301,"k":"G"},{"s":"T4-2","f":3,"u":302,"k":"G"},{"s":"T4-3","f":3,"u":303,"k":"G"},{"s":"T4-4","f":3,"u":304,"k":"G"},{"s":"T4-5","f":3,"u":305},{"s":"T4-6","f":3,"u":306},{"s":"T4-1","f":2,"u":201},{"s":"T4-2","f":2,"u":202,"k":"G"},{"s":"T4-3","f":2,"u":203,"k":"G"},{"s":"T4-4","f":2,"u":204,"k":"G"},{"s":"T4-5","f":2,"u":205,"k":"G"},{"s":"T4-6","f":2,"u":206,"k":"G"},{"s":"T4-1","f":1,"u":101},{"s":"T4-2","f":1,"u":102},{"s":"T4-3","f":1,"u":103},{"s":"T4-4","f":1,"u":104,"k":"G"},{"s":"T4-5","f":1,"u":105},{"s":"T4-6","f":1,"u":106}]
},
"vconcat":[
{"spacing":6.5,"vconcat":[
 {"width":1200,"height":553,"data":{"name":"r1"},
  "encoding":{
   "x":{"field":"s","type":"ordinal","scale":{"type":"band","domain":["L",10101,10102,10103,10104,10105,10106,"g1",10201,10202,10203,10204,10205,10206,"g2",10301,10302,10303,10304,"g3",10401,10402,10403,10404],"paddingInner":0,"paddingOuter":0},"axis":null},
   "y":{"field":"f","type":"ordinal","scale":{"type":"band","domain":[36,35,34,33,32,31,30,29,28,27,26,25,24,23,22,21,20,19,18,17,16,15,14,13,12,11,10,9,8,7,6,5,4,3,2,1],"paddingInner":0,"paddingOuter":0},"axis":null}
  },
  "layer":[
   {"transform":[{"lookup":"s","from":{"data":{"name":"ty1"},"key":"s","fields":["t"]}}],
    "mark":{"type":"rect","stroke":"#000","strokeOpacity":0.4,"strokeWidth":1.2},
    "encoding":{"fill":{"condition":[{"test":"!datum.k","value":"#7B7F7B"},{"test":"datum.k=='P'||datum.k=='W'","value":"#FFFFFF"}],"field":"t","type":"nominal","scale":{"domain":["59A","59B","59C","73","84A","84B","84C","59T","84T"],"range":["#FFE100","#00AE94","#8FC31F","#8E80BA","#55C1EF","#F4AD55","#EE88B4","#69B0A6","#3E7DC1"]},"legend":null}}},
   {"transform":[{"filter":"datum.k=='P'"}],"mark":{"type":"rule","color":"#808080","strokeWidth":1},
    "encoding":{"x":{"field":"s","type":"ordinal","bandPosition":0},"x2":{"field":"s","bandPosition":1},"y":{"field":"f","type":"ordinal","bandPosition":0},"y2":{"field":"f","bandPosition":1}}},
   {"transform":[{"filter":"datum.k=='P'"}],"mark":{"type":"rule","color":"#808080","strokeWidth":1},
    "encoding":{"x":{"field":"s","type":"ordinal","bandPosition":0},"x2":{"field":"s","bandPosition":1},"y":{"field":"f","type":"ordinal","bandPosition":1},"y2":{"field":"f","bandPosition":0}}},
   {"transform":[{"filter":"isValid(datum.u)"}],
    "mark":{"type":"text","baseline":"middle","align":"center"},
    "encoding":{"text":{"field":"u","type":"nominal"},"color":{"condition":{"test":"!datum.k","value":"#676B67"},"value":"#333333"},"size":{"condition":{"test":"datum.k=='W'","value":10},"value":11.5}}},
   {"data":{"name":"b1"},
    "mark":{"type":"rect","stroke":"#FFFFFF","strokeWidth":1.5},
    "encoding":{
     "x":{"field":"s","type":"ordinal","bandPosition":0},"x2":{"field":"s2","bandPosition":1},
     "y":{"field":"f","type":"ordinal","bandPosition":0},"y2":{"field":"f2","bandPosition":1},
     "fill":{"condition":{"test":"datum.k=='B'","value":"#E6E6E6"},"value":"#FFFFFF"}}},
   {"data":{"name":"bt1"},"transform":[{"filter":"datum.k=='B'"}],
    "mark":{"type":"text","lineBreak":"\n","fontSize":12.5,"color":"#333","baseline":"middle","lineHeight":15},
    "encoding":{"text":{"field":"tx","type":"nominal"}}},
   {"data":{"name":"bt1"},"transform":[{"filter":"datum.k=='W'"}],
    "mark":{"type":"text","fontSize":11.5,"color":"#333","baseline":"middle"},
    "encoding":{"y":{"field":"f","type":"ordinal","bandPosition":1},"text":{"field":"tx","type":"nominal"}}},
   {"data":{"name":"lf36"},"mark":{"type":"text","fontSize":12,"color":"#333","baseline":"middle"},
    "encoding":{"x":{"field":"c","type":"ordinal","bandPosition":0.395},"text":{"field":"l","type":"nominal"}}},
   {"data":{"name":"lf36"},"mark":{"type":"rule"},
    "encoding":{"x":{"field":"c","type":"ordinal","bandPosition":0},"x2":{"field":"c","bandPosition":0.79},"y":{"field":"f","type":"ordinal","bandPosition":1},"color":{"condition":{"test":"datum.f==1","value":"#333"},"value":"#999"},"strokeWidth":{"condition":{"test":"datum.f==1","value":2},"value":1.2}}},
   {"data":{"name":"lf36"},"transform":[{"filter":"datum.f==36"}],"mark":{"type":"rule","color":"#333","strokeWidth":2},
    "encoding":{"x":{"field":"c","type":"ordinal","bandPosition":0},"x2":{"field":"c","bandPosition":0.79},"y":{"field":"f","type":"ordinal","bandPosition":0}}}
  ]},
 {"width":1200,"height":36,
  "encoding":{
   "x":{"field":"s","type":"ordinal","scale":{"type":"band","domain":["L",10101,10102,10103,10104,10105,10106,"g1",10201,10202,10203,10204,10205,10206,"g2",10301,10302,10303,10304,"g3",10401,10402,10403,10404],"paddingInner":0,"paddingOuter":0},"axis":null},
   "y":{"field":"r","type":"ordinal","scale":{"type":"band","domain":["타입","동"],"paddingInner":0,"paddingOuter":0},"axis":null}
  },
  "layer":[
   {"data":{"name":"ty1"},"mark":{"type":"rect","stroke":"#000","strokeOpacity":0.4,"strokeWidth":1.2},
    "encoding":{"fill":{"field":"t","type":"nominal","scale":{"domain":["59A","59B","59C","73","84A","84B","84C","59T","84T"],"range":["#FFE100","#00AE94","#8FC31F","#8E80BA","#55C1EF","#F4AD55","#EE88B4","#69B0A6","#3E7DC1"]},"legend":null}}},
   {"data":{"name":"ty1"},"mark":{"type":"text","fontSize":11.5,"color":"#333","baseline":"middle"},"encoding":{"text":{"field":"t","type":"nominal"}}},
   {"data":{"name":"n1"},"mark":{"type":"rect","fill":"#E6E6E6","stroke":"#8C8C8C","strokeWidth":1.5},
    "encoding":{"x":{"field":"s","type":"ordinal","bandPosition":0},"x2":{"field":"s2","bandPosition":1}}},
   {"data":{"name":"n1"},"mark":{"type":"text","fontSize":12.5,"color":"#222","baseline":"middle"},
    "encoding":{"x":{"field":"a","type":"ordinal","bandPosition":1},"text":{"field":"b","type":"nominal"}}},
   {"data":{"name":"lt"},"mark":{"type":"text","fontSize":12,"color":"#333","baseline":"middle"},
    "encoding":{"x":{"field":"c","type":"ordinal","bandPosition":0.395},"text":{"field":"r","type":"nominal"}}},
   {"data":{"name":"lt"},"mark":{"type":"rule"},
    "encoding":{"x":{"field":"c","type":"ordinal","bandPosition":0},"x2":{"field":"c","bandPosition":0.79},"y":{"field":"r","type":"ordinal","bandPosition":1},"color":{"condition":{"test":"datum.r=='동'","value":"#333"},"value":"#AAA"},"strokeWidth":{"condition":{"test":"datum.r=='동'","value":2},"value":1.2}}},
   {"data":{"name":"lt"},"transform":[{"filter":"datum.r=='타입'"}],"mark":{"type":"rule","color":"#333","strokeWidth":2},
    "encoding":{"x":{"field":"c","type":"ordinal","bandPosition":0},"x2":{"field":"c","bandPosition":0.79},"y":{"field":"r","type":"ordinal","bandPosition":0}}}
  ]}
]},
{"spacing":6.5,"vconcat":[
 {"width":1200,"height":553,"data":{"name":"r2"},
  "encoding":{
   "x":{"field":"s","type":"ordinal","scale":{"type":"band","domain":["L",10501,10502,10503,10504,"g1",10601,10602,10603,10604,10605,"g2",10701,10702,10703,10704,10705,"g3","g4","g5","g6","g7","g8","g9"],"paddingInner":0,"paddingOuter":0},"axis":null},
   "y":{"field":"f","type":"ordinal","scale":{"type":"band","domain":[36,35,34,33,32,31,30,29,28,27,26,25,24,23,22,21,20,19,18,17,16,15,14,13,12,11,10,9,8,7,6,5,4,3,2,1],"paddingInner":0,"paddingOuter":0},"axis":null}
  },
  "layer":[
   {"transform":[{"lookup":"s","from":{"data":{"name":"ty2"},"key":"s","fields":["t"]}}],
    "mark":{"type":"rect","stroke":"#000","strokeOpacity":0.4,"strokeWidth":1.2},
    "encoding":{"fill":{"condition":[{"test":"datum.k=='G'","value":"#7B7F7B"},{"test":"datum.k=='P'||datum.k=='W'","value":"#FFFFFF"}],"field":"t","type":"nominal","scale":{"domain":["59A","59B","59C","73","84A","84B","84C","59T","84T"],"range":["#FFE100","#00AE94","#8FC31F","#8E80BA","#55C1EF","#F4AD55","#EE88B4","#69B0A6","#3E7DC1"]},"legend":null}}},
   {"transform":[{"filter":"datum.k=='P'"}],"mark":{"type":"rule","color":"#808080","strokeWidth":1},
    "encoding":{"x":{"field":"s","type":"ordinal","bandPosition":0},"x2":{"field":"s","bandPosition":1},"y":{"field":"f","type":"ordinal","bandPosition":0},"y2":{"field":"f","bandPosition":1}}},
   {"transform":[{"filter":"datum.k=='P'"}],"mark":{"type":"rule","color":"#808080","strokeWidth":1},
    "encoding":{"x":{"field":"s","type":"ordinal","bandPosition":0},"x2":{"field":"s","bandPosition":1},"y":{"field":"f","type":"ordinal","bandPosition":1},"y2":{"field":"f","bandPosition":0}}},
   {"transform":[{"filter":"isValid(datum.u)"}],
    "mark":{"type":"text","baseline":"middle","align":"center","fontSize":11.5},
    "encoding":{"text":{"field":"u","type":"nominal"},"color":{"condition":{"test":"datum.k=='G'","value":"#676B67"},"value":"#333333"}}},
   {"data":{"name":"lf36"},"mark":{"type":"text","fontSize":12,"color":"#333","baseline":"middle"},
    "encoding":{"x":{"field":"c","type":"ordinal","bandPosition":0.395},"text":{"field":"l","type":"nominal"}}},
   {"data":{"name":"lf36"},"mark":{"type":"rule"},
    "encoding":{"x":{"field":"c","type":"ordinal","bandPosition":0},"x2":{"field":"c","bandPosition":0.79},"y":{"field":"f","type":"ordinal","bandPosition":1},"color":{"condition":{"test":"datum.f==1","value":"#333"},"value":"#999"},"strokeWidth":{"condition":{"test":"datum.f==1","value":2},"value":1.2}}},
   {"data":{"name":"lf36"},"transform":[{"filter":"datum.f==36"}],"mark":{"type":"rule","color":"#333","strokeWidth":2},
    "encoding":{"x":{"field":"c","type":"ordinal","bandPosition":0},"x2":{"field":"c","bandPosition":0.79},"y":{"field":"f","type":"ordinal","bandPosition":0}}}
  ]},
 {"width":1200,"height":36,
  "encoding":{
   "x":{"field":"s","type":"ordinal","scale":{"type":"band","domain":["L",10501,10502,10503,10504,"g1",10601,10602,10603,10604,10605,"g2",10701,10702,10703,10704,10705,"g3","g4","g5","g6","g7","g8","g9"],"paddingInner":0,"paddingOuter":0},"axis":null},
   "y":{"field":"r","type":"ordinal","scale":{"type":"band","domain":["타입","동"],"paddingInner":0,"paddingOuter":0},"axis":null}
  },
  "layer":[
   {"data":{"name":"ty2"},"mark":{"type":"rect","stroke":"#000","strokeOpacity":0.4,"strokeWidth":1.2},
    "encoding":{"fill":{"field":"t","type":"nominal","scale":{"domain":["59A","59B","59C","73","84A","84B","84C","59T","84T"],"range":["#FFE100","#00AE94","#8FC31F","#8E80BA","#55C1EF","#F4AD55","#EE88B4","#69B0A6","#3E7DC1"]},"legend":null}}},
   {"data":{"name":"ty2"},"mark":{"type":"text","fontSize":11.5,"color":"#333","baseline":"middle"},"encoding":{"text":{"field":"t","type":"nominal"}}},
   {"data":{"name":"n2"},"mark":{"type":"rect","fill":"#E6E6E6","stroke":"#8C8C8C","strokeWidth":1.5},
    "encoding":{"x":{"field":"s","type":"ordinal","bandPosition":0},"x2":{"field":"s2","bandPosition":1}}},
   {"data":{"name":"n2"},"transform":[{"filter":"datum.n%2==0"}],"mark":{"type":"text","fontSize":12.5,"color":"#222","baseline":"middle"},
    "encoding":{"x":{"field":"a","type":"ordinal","bandPosition":1},"text":{"field":"b","type":"nominal"}}},
   {"data":{"name":"n2"},"transform":[{"filter":"datum.n%2==1"}],"mark":{"type":"text","fontSize":12.5,"color":"#222","baseline":"middle"},
    "encoding":{"x":{"field":"a","type":"ordinal","bandPosition":0.5},"text":{"field":"b","type":"nominal"}}},
   {"data":{"name":"lt"},"mark":{"type":"text","fontSize":12,"color":"#333","baseline":"middle"},
    "encoding":{"x":{"field":"c","type":"ordinal","bandPosition":0.395},"text":{"field":"r","type":"nominal"}}},
   {"data":{"name":"lt"},"mark":{"type":"rule"},
    "encoding":{"x":{"field":"c","type":"ordinal","bandPosition":0},"x2":{"field":"c","bandPosition":0.79},"y":{"field":"r","type":"ordinal","bandPosition":1},"color":{"condition":{"test":"datum.r=='동'","value":"#333"},"value":"#AAA"},"strokeWidth":{"condition":{"test":"datum.r=='동'","value":2},"value":1.2}}},
   {"data":{"name":"lt"},"transform":[{"filter":"datum.r=='타입'"}],"mark":{"type":"rule","color":"#333","strokeWidth":2},
    "encoding":{"x":{"field":"c","type":"ordinal","bandPosition":0},"x2":{"field":"c","bandPosition":0.79},"y":{"field":"r","type":"ordinal","bandPosition":0}}}
  ]}
]},
{"spacing":6.5,"vconcat":[
 {"width":1200,"height":553,"data":{"name":"r3"},
  "encoding":{
   "x":{"field":"s","type":"ordinal","scale":{"type":"band","domain":["L",10801,10802,10803,10804,10805,10806,"g1",10901,10902,10903,10904,"g2",11001,11002,11003,11004,11005,"g3",11101,11102,11103,11104,11105],"paddingInner":0,"paddingOuter":0},"axis":null},
   "y":{"field":"f","type":"ordinal","scale":{"type":"band","domain":[36,35,34,33,32,31,30,29,28,27,26,25,24,23,22,21,20,19,18,17,16,15,14,13,12,11,10,9,8,7,6,5,4,3,2,1],"paddingInner":0,"paddingOuter":0},"axis":null}
  },
  "layer":[
   {"transform":[{"lookup":"s","from":{"data":{"name":"ty3"},"key":"s","fields":["t"]}}],
    "mark":{"type":"rect","stroke":"#000","strokeOpacity":0.4,"strokeWidth":1.2},
    "encoding":{"fill":{"condition":[{"test":"datum.k=='G'","value":"#7B7F7B"},{"test":"datum.k=='P'||datum.k=='W'","value":"#FFFFFF"}],"field":"t","type":"nominal","scale":{"domain":["59A","59B","59C","73","84A","84B","84C","59T","84T"],"range":["#FFE100","#00AE94","#8FC31F","#8E80BA","#55C1EF","#F4AD55","#EE88B4","#69B0A6","#3E7DC1"]},"legend":null}}},
   {"transform":[{"filter":"datum.k=='P'"}],"mark":{"type":"rule","color":"#808080","strokeWidth":1},
    "encoding":{"x":{"field":"s","type":"ordinal","bandPosition":0},"x2":{"field":"s","bandPosition":1},"y":{"field":"f","type":"ordinal","bandPosition":0},"y2":{"field":"f","bandPosition":1}}},
   {"transform":[{"filter":"datum.k=='P'"}],"mark":{"type":"rule","color":"#808080","strokeWidth":1},
    "encoding":{"x":{"field":"s","type":"ordinal","bandPosition":0},"x2":{"field":"s","bandPosition":1},"y":{"field":"f","type":"ordinal","bandPosition":1},"y2":{"field":"f","bandPosition":0}}},
   {"transform":[{"filter":"isValid(datum.u)"}],
    "mark":{"type":"text","baseline":"middle","align":"center","fontSize":11.5},
    "encoding":{"text":{"field":"u","type":"nominal"},"color":{"condition":{"test":"datum.k=='G'","value":"#676B67"},"value":"#333333"}}},
   {"data":{"name":"lf36"},"mark":{"type":"text","fontSize":12,"color":"#333","baseline":"middle"},
    "encoding":{"x":{"field":"c","type":"ordinal","bandPosition":0.395},"text":{"field":"l","type":"nominal"}}},
   {"data":{"name":"lf36"},"mark":{"type":"rule"},
    "encoding":{"x":{"field":"c","type":"ordinal","bandPosition":0},"x2":{"field":"c","bandPosition":0.79},"y":{"field":"f","type":"ordinal","bandPosition":1},"color":{"condition":{"test":"datum.f==1","value":"#333"},"value":"#999"},"strokeWidth":{"condition":{"test":"datum.f==1","value":2},"value":1.2}}},
   {"data":{"name":"lf36"},"transform":[{"filter":"datum.f==36"}],"mark":{"type":"rule","color":"#333","strokeWidth":2},
    "encoding":{"x":{"field":"c","type":"ordinal","bandPosition":0},"x2":{"field":"c","bandPosition":0.79},"y":{"field":"f","type":"ordinal","bandPosition":0}}}
  ]},
 {"width":1200,"height":36,
  "encoding":{
   "x":{"field":"s","type":"ordinal","scale":{"type":"band","domain":["L",10801,10802,10803,10804,10805,10806,"g1",10901,10902,10903,10904,"g2",11001,11002,11003,11004,11005,"g3",11101,11102,11103,11104,11105],"paddingInner":0,"paddingOuter":0},"axis":null},
   "y":{"field":"r","type":"ordinal","scale":{"type":"band","domain":["타입","동"],"paddingInner":0,"paddingOuter":0},"axis":null}
  },
  "layer":[
   {"data":{"name":"ty3"},"mark":{"type":"rect","stroke":"#000","strokeOpacity":0.4,"strokeWidth":1.2},
    "encoding":{"fill":{"field":"t","type":"nominal","scale":{"domain":["59A","59B","59C","73","84A","84B","84C","59T","84T"],"range":["#FFE100","#00AE94","#8FC31F","#8E80BA","#55C1EF","#F4AD55","#EE88B4","#69B0A6","#3E7DC1"]},"legend":null}}},
   {"data":{"name":"ty3"},"mark":{"type":"text","fontSize":11.5,"color":"#333","baseline":"middle"},"encoding":{"text":{"field":"t","type":"nominal"}}},
   {"data":{"name":"n3"},"mark":{"type":"rect","fill":"#E6E6E6","stroke":"#8C8C8C","strokeWidth":1.5},
    "encoding":{"x":{"field":"s","type":"ordinal","bandPosition":0},"x2":{"field":"s2","bandPosition":1}}},
   {"data":{"name":"n3"},"transform":[{"filter":"datum.n%2==0"}],"mark":{"type":"text","fontSize":12.5,"color":"#222","baseline":"middle"},
    "encoding":{"x":{"field":"a","type":"ordinal","bandPosition":1},"text":{"field":"b","type":"nominal"}}},
   {"data":{"name":"n3"},"transform":[{"filter":"datum.n%2==1"}],"mark":{"type":"text","fontSize":12.5,"color":"#222","baseline":"middle"},
    "encoding":{"x":{"field":"a","type":"ordinal","bandPosition":0.5},"text":{"field":"b","type":"nominal"}}},
   {"data":{"name":"lt"},"mark":{"type":"text","fontSize":12,"color":"#333","baseline":"middle"},
    "encoding":{"x":{"field":"c","type":"ordinal","bandPosition":0.395},"text":{"field":"r","type":"nominal"}}},
   {"data":{"name":"lt"},"mark":{"type":"rule"},
    "encoding":{"x":{"field":"c","type":"ordinal","bandPosition":0},"x2":{"field":"c","bandPosition":0.79},"y":{"field":"r","type":"ordinal","bandPosition":1},"color":{"condition":{"test":"datum.r=='동'","value":"#333"},"value":"#AAA"},"strokeWidth":{"condition":{"test":"datum.r=='동'","value":2},"value":1.2}}},
   {"data":{"name":"lt"},"transform":[{"filter":"datum.r=='타입'"}],"mark":{"type":"rule","color":"#333","strokeWidth":2},
    "encoding":{"x":{"field":"c","type":"ordinal","bandPosition":0},"x2":{"field":"c","bandPosition":0.79},"y":{"field":"r","type":"ordinal","bandPosition":0}}}
  ]}
]},
{"spacing":50,"hconcat":[
 {"spacing":6.5,"vconcat":[
  {"width":250,"height":553,"data":{"name":"r4"},
   "encoding":{
    "x":{"field":"s","type":"ordinal","scale":{"type":"band","domain":["L",11201,11202,11203,11204],"paddingInner":0,"paddingOuter":0},"axis":null},
    "y":{"field":"f","type":"ordinal","scale":{"type":"band","domain":[36,35,34,33,32,31,30,29,28,27,26,25,24,23,22,21,20,19,18,17,16,15,14,13,12,11,10,9,8,7,6,5,4,3,2,1],"paddingInner":0,"paddingOuter":0},"axis":null}
   },
   "layer":[
    {"transform":[{"lookup":"s","from":{"data":{"name":"ty4"},"key":"s","fields":["t"]}}],
     "mark":{"type":"rect","stroke":"#000","strokeOpacity":0.4,"strokeWidth":1.2},
     "encoding":{"fill":{"condition":[{"test":"datum.k=='G'","value":"#7B7F7B"},{"test":"datum.k=='P'||datum.k=='W'","value":"#FFFFFF"}],"field":"t","type":"nominal","scale":{"domain":["59A","59B","59C","73","84A","84B","84C","59T","84T"],"range":["#FFE100","#00AE94","#8FC31F","#8E80BA","#55C1EF","#F4AD55","#EE88B4","#69B0A6","#3E7DC1"]},"legend":null}}},
    {"transform":[{"filter":"datum.k=='P'"}],"mark":{"type":"rule","color":"#808080","strokeWidth":1},
     "encoding":{"x":{"field":"s","type":"ordinal","bandPosition":0},"x2":{"field":"s","bandPosition":1},"y":{"field":"f","type":"ordinal","bandPosition":0},"y2":{"field":"f","bandPosition":1}}},
    {"transform":[{"filter":"datum.k=='P'"}],"mark":{"type":"rule","color":"#808080","strokeWidth":1},
     "encoding":{"x":{"field":"s","type":"ordinal","bandPosition":0},"x2":{"field":"s","bandPosition":1},"y":{"field":"f","type":"ordinal","bandPosition":1},"y2":{"field":"f","bandPosition":0}}},
    {"transform":[{"filter":"isValid(datum.u)"}],
     "mark":{"type":"text","baseline":"middle","align":"center","fontSize":11.5},
     "encoding":{"text":{"field":"u","type":"nominal"},"color":{"condition":{"test":"datum.k=='G'","value":"#676B67"},"value":"#333333"}}},
    {"data":{"name":"lf36"},"mark":{"type":"text","fontSize":12,"color":"#333","baseline":"middle"},
     "encoding":{"x":{"field":"c","type":"ordinal","bandPosition":0.395},"text":{"field":"l","type":"nominal"}}},
    {"data":{"name":"lf36"},"mark":{"type":"rule"},
     "encoding":{"x":{"field":"c","type":"ordinal","bandPosition":0},"x2":{"field":"c","bandPosition":0.79},"y":{"field":"f","type":"ordinal","bandPosition":1},"color":{"condition":{"test":"datum.f==1","value":"#333"},"value":"#999"},"strokeWidth":{"condition":{"test":"datum.f==1","value":2},"value":1.2}}},
    {"data":{"name":"lf36"},"transform":[{"filter":"datum.f==36"}],"mark":{"type":"rule","color":"#333","strokeWidth":2},
     "encoding":{"x":{"field":"c","type":"ordinal","bandPosition":0},"x2":{"field":"c","bandPosition":0.79},"y":{"field":"f","type":"ordinal","bandPosition":0}}}
   ]},
  {"width":250,"height":36,
   "encoding":{
    "x":{"field":"s","type":"ordinal","scale":{"type":"band","domain":["L",11201,11202,11203,11204],"paddingInner":0,"paddingOuter":0},"axis":null},
    "y":{"field":"r","type":"ordinal","scale":{"type":"band","domain":["타입","동"],"paddingInner":0,"paddingOuter":0},"axis":null}
   },
   "layer":[
    {"data":{"name":"ty4"},"mark":{"type":"rect","stroke":"#000","strokeOpacity":0.4,"strokeWidth":1.2},
     "encoding":{"fill":{"field":"t","type":"nominal","scale":{"domain":["59A","59B","59C","73","84A","84B","84C","59T","84T"],"range":["#FFE100","#00AE94","#8FC31F","#8E80BA","#55C1EF","#F4AD55","#EE88B4","#69B0A6","#3E7DC1"]},"legend":null}}},
    {"data":{"name":"ty4"},"mark":{"type":"text","fontSize":11.5,"color":"#333","baseline":"middle"},"encoding":{"text":{"field":"t","type":"nominal"}}},
    {"data":{"name":"n4"},"mark":{"type":"rect","fill":"#E6E6E6","stroke":"#8C8C8C","strokeWidth":1.5},
     "encoding":{"x":{"field":"s","type":"ordinal","bandPosition":0},"x2":{"field":"s2","bandPosition":1}}},
    {"data":{"name":"n4"},"mark":{"type":"text","fontSize":12.5,"color":"#222","baseline":"middle"},
     "encoding":{"x":{"field":"a","type":"ordinal","bandPosition":1},"text":{"field":"b","type":"nominal"}}},
    {"data":{"name":"lt"},"mark":{"type":"text","fontSize":12,"color":"#333","baseline":"middle"},
     "encoding":{"x":{"field":"c","type":"ordinal","bandPosition":0.395},"text":{"field":"r","type":"nominal"}}},
    {"data":{"name":"lt"},"mark":{"type":"rule"},
     "encoding":{"x":{"field":"c","type":"ordinal","bandPosition":0},"x2":{"field":"c","bandPosition":0.79},"y":{"field":"r","type":"ordinal","bandPosition":1},"color":{"condition":{"test":"datum.r=='동'","value":"#333"},"value":"#AAA"},"strokeWidth":{"condition":{"test":"datum.r=='동'","value":2},"value":1.2}}},
    {"data":{"name":"lt"},"transform":[{"filter":"datum.r=='타입'"}],"mark":{"type":"rule","color":"#333","strokeWidth":2},
     "encoding":{"x":{"field":"c","type":"ordinal","bandPosition":0},"x2":{"field":"c","bandPosition":0.79},"y":{"field":"r","type":"ordinal","bandPosition":0}}}
   ]}
 ]},
 {"spacing":74,"hconcat":[
  {"spacing":64,"vconcat":[
   {"spacing":50.3,"vconcat":[
    {"spacing":7,"vconcat":[
     {"width":350,"height":61.5,"data":{"name":"cT1"},
      "encoding":{"x":{"field":"s","type":"ordinal","scale":{"type":"band","domain":["L","T1-1","T1-2","T1-3","T1-4","e1","e2"],"paddingInner":0,"paddingOuter":0},"axis":null},
       "y":{"field":"f","type":"ordinal","scale":{"type":"band","domain":[4,3,2,1],"paddingInner":0,"paddingOuter":0},"axis":null}},
      "layer":[
       {"transform":[{"lookup":"s","from":{"data":{"name":"tT1"},"key":"s","fields":["t"]}}],"mark":{"type":"rect","stroke":"#000","strokeOpacity":0.4,"strokeWidth":1.2},
        "encoding":{"fill":{"condition":{"test":"datum.k=='G'","value":"#7B7F7B"},"field":"t","type":"nominal","scale":{"domain":["59A","59B","59C","73","84A","84B","84C","59T","84T"],"range":["#FFE100","#00AE94","#8FC31F","#8E80BA","#55C1EF","#F4AD55","#EE88B4","#69B0A6","#3E7DC1"]},"legend":null}}},
       {"mark":{"type":"text","baseline":"middle","fontSize":11.5},"encoding":{"text":{"field":"u","type":"nominal"},"color":{"condition":{"test":"datum.k=='G'","value":"#676B67"},"value":"#333333"}}},
       {"data":{"name":"lf4"},"mark":{"type":"text","fontSize":12,"color":"#333","baseline":"middle"},"encoding":{"x":{"field":"c","type":"ordinal","bandPosition":0.37},"text":{"field":"l","type":"nominal"}}},
       {"data":{"name":"lf4"},"mark":{"type":"rule"},"encoding":{"x":{"field":"c","type":"ordinal","bandPosition":0},"x2":{"field":"c","bandPosition":0.74},"y":{"field":"f","type":"ordinal","bandPosition":1},"color":{"condition":{"test":"datum.f==1","value":"#333"},"value":"#999"},"strokeWidth":{"condition":{"test":"datum.f==1","value":2},"value":1.2}}},
       {"data":{"name":"lf4"},"transform":[{"filter":"datum.f==4"}],"mark":{"type":"rule","color":"#333","strokeWidth":2},"encoding":{"x":{"field":"c","type":"ordinal","bandPosition":0},"x2":{"field":"c","bandPosition":0.74},"y":{"field":"f","type":"ordinal","bandPosition":0}}}
      ]},
     {"width":350,"height":36,
      "encoding":{"x":{"field":"s","type":"ordinal","scale":{"type":"band","domain":["L","T1-1","T1-2","T1-3","T1-4","e1","e2"],"paddingInner":0,"paddingOuter":0},"axis":null},
       "y":{"field":"r","type":"ordinal","scale":{"type":"band","domain":["타입","동"],"paddingInner":0,"paddingOuter":0},"axis":null}},
      "layer":[
       {"data":{"name":"tT1"},"mark":{"type":"rect","stroke":"#000","strokeOpacity":0.4,"strokeWidth":1.2},"encoding":{"fill":{"field":"t","type":"nominal","scale":{"domain":["59A","59B","59C","73","84A","84B","84C","59T","84T"],"range":["#FFE100","#00AE94","#8FC31F","#8E80BA","#55C1EF","#F4AD55","#EE88B4","#69B0A6","#3E7DC1"]},"legend":null}}},
       {"data":{"name":"tT1"},"mark":{"type":"text","fontSize":11.5,"color":"#333","baseline":"middle"},"encoding":{"text":{"field":"t","type":"nominal"}}},
       {"data":{"name":"nT1"},"mark":{"type":"rect","fill":"#E6E6E6","stroke":"#8C8C8C","strokeWidth":1.5},"encoding":{"x":{"field":"s","type":"ordinal","bandPosition":0},"x2":{"field":"s2","bandPosition":1}}},
       {"data":{"name":"nT1"},"mark":{"type":"text","fontSize":12.5,"color":"#222","baseline":"middle"},"encoding":{"x":{"field":"a","type":"ordinal","bandPosition":1},"text":{"field":"b","type":"nominal"}}},
       {"data":{"name":"lt"},"mark":{"type":"text","fontSize":12,"color":"#333","baseline":"middle"},"encoding":{"x":{"field":"c","type":"ordinal","bandPosition":0.37},"text":{"field":"r","type":"nominal"}}},
       {"data":{"name":"lt"},"mark":{"type":"rule"},"encoding":{"x":{"field":"c","type":"ordinal","bandPosition":0},"x2":{"field":"c","bandPosition":0.74},"y":{"field":"r","type":"ordinal","bandPosition":1},"color":{"condition":{"test":"datum.r=='동'","value":"#333"},"value":"#AAA"},"strokeWidth":{"condition":{"test":"datum.r=='동'","value":2},"value":1.2}}},
       {"data":{"name":"lt"},"transform":[{"filter":"datum.r=='타입'"}],"mark":{"type":"rule","color":"#333","strokeWidth":2},"encoding":{"x":{"field":"c","type":"ordinal","bandPosition":0},"x2":{"field":"c","bandPosition":0.74},"y":{"field":"r","type":"ordinal","bandPosition":0}}}
      ]}
    ]},
    {"spacing":7,"vconcat":[
     {"width":350,"height":61.5,"data":{"name":"cT2"},
      "encoding":{"x":{"field":"s","type":"ordinal","scale":{"type":"band","domain":["L","T2-1","T2-2","T2-3","T2-4","e1","e2"],"paddingInner":0,"paddingOuter":0},"axis":null},
       "y":{"field":"f","type":"ordinal","scale":{"type":"band","domain":[4,3,2,1],"paddingInner":0,"paddingOuter":0},"axis":null}},
      "layer":[
       {"transform":[{"lookup":"s","from":{"data":{"name":"tT2"},"key":"s","fields":["t"]}}],"mark":{"type":"rect","stroke":"#000","strokeOpacity":0.4,"strokeWidth":1.2},
        "encoding":{"fill":{"condition":{"test":"datum.k=='G'","value":"#7B7F7B"},"field":"t","type":"nominal","scale":{"domain":["59A","59B","59C","73","84A","84B","84C","59T","84T"],"range":["#FFE100","#00AE94","#8FC31F","#8E80BA","#55C1EF","#F4AD55","#EE88B4","#69B0A6","#3E7DC1"]},"legend":null}}},
       {"mark":{"type":"text","baseline":"middle","fontSize":11.5},"encoding":{"text":{"field":"u","type":"nominal"},"color":{"condition":{"test":"datum.k=='G'","value":"#676B67"},"value":"#333333"}}},
       {"data":{"name":"lf4"},"mark":{"type":"text","fontSize":12,"color":"#333","baseline":"middle"},"encoding":{"x":{"field":"c","type":"ordinal","bandPosition":0.37},"text":{"field":"l","type":"nominal"}}},
       {"data":{"name":"lf4"},"mark":{"type":"rule"},"encoding":{"x":{"field":"c","type":"ordinal","bandPosition":0},"x2":{"field":"c","bandPosition":0.74},"y":{"field":"f","type":"ordinal","bandPosition":1},"color":{"condition":{"test":"datum.f==1","value":"#333"},"value":"#999"},"strokeWidth":{"condition":{"test":"datum.f==1","value":2},"value":1.2}}},
       {"data":{"name":"lf4"},"transform":[{"filter":"datum.f==4"}],"mark":{"type":"rule","color":"#333","strokeWidth":2},"encoding":{"x":{"field":"c","type":"ordinal","bandPosition":0},"x2":{"field":"c","bandPosition":0.74},"y":{"field":"f","type":"ordinal","bandPosition":0}}}
      ]},
     {"width":350,"height":36,
      "encoding":{"x":{"field":"s","type":"ordinal","scale":{"type":"band","domain":["L","T2-1","T2-2","T2-3","T2-4","e1","e2"],"paddingInner":0,"paddingOuter":0},"axis":null},
       "y":{"field":"r","type":"ordinal","scale":{"type":"band","domain":["타입","동"],"paddingInner":0,"paddingOuter":0},"axis":null}},
      "layer":[
       {"data":{"name":"tT2"},"mark":{"type":"rect","stroke":"#000","strokeOpacity":0.4,"strokeWidth":1.2},"encoding":{"fill":{"field":"t","type":"nominal","scale":{"domain":["59A","59B","59C","73","84A","84B","84C","59T","84T"],"range":["#FFE100","#00AE94","#8FC31F","#8E80BA","#55C1EF","#F4AD55","#EE88B4","#69B0A6","#3E7DC1"]},"legend":null}}},
       {"data":{"name":"tT2"},"mark":{"type":"text","fontSize":11.5,"color":"#333","baseline":"middle"},"encoding":{"text":{"field":"t","type":"nominal"}}},
       {"data":{"name":"nT2"},"mark":{"type":"rect","fill":"#E6E6E6","stroke":"#8C8C8C","strokeWidth":1.5},"encoding":{"x":{"field":"s","type":"ordinal","bandPosition":0},"x2":{"field":"s2","bandPosition":1}}},
       {"data":{"name":"nT2"},"mark":{"type":"text","fontSize":12.5,"color":"#222","baseline":"middle"},"encoding":{"x":{"field":"a","type":"ordinal","bandPosition":1},"text":{"field":"b","type":"nominal"}}},
       {"data":{"name":"lt"},"mark":{"type":"text","fontSize":12,"color":"#333","baseline":"middle"},"encoding":{"x":{"field":"c","type":"ordinal","bandPosition":0.37},"text":{"field":"r","type":"nominal"}}},
       {"data":{"name":"lt"},"mark":{"type":"rule"},"encoding":{"x":{"field":"c","type":"ordinal","bandPosition":0},"x2":{"field":"c","bandPosition":0.74},"y":{"field":"r","type":"ordinal","bandPosition":1},"color":{"condition":{"test":"datum.r=='동'","value":"#333"},"value":"#AAA"},"strokeWidth":{"condition":{"test":"datum.r=='동'","value":2},"value":1.2}}},
       {"data":{"name":"lt"},"transform":[{"filter":"datum.r=='타입'"}],"mark":{"type":"rule","color":"#333","strokeWidth":2},"encoding":{"x":{"field":"c","type":"ordinal","bandPosition":0},"x2":{"field":"c","bandPosition":0.74},"y":{"field":"r","type":"ordinal","bandPosition":0}}}
      ]}
    ]},
    {"spacing":7,"vconcat":[
     {"width":350,"height":61.5,"data":{"name":"cT3"},
      "encoding":{"x":{"field":"s","type":"ordinal","scale":{"type":"band","domain":["L","T3-1","T3-2","e1","e2","e3","e4"],"paddingInner":0,"paddingOuter":0},"axis":null},
       "y":{"field":"f","type":"ordinal","scale":{"type":"band","domain":[4,3,2,1],"paddingInner":0,"paddingOuter":0},"axis":null}},
      "layer":[
       {"transform":[{"lookup":"s","from":{"data":{"name":"tT3"},"key":"s","fields":["t"]}}],"mark":{"type":"rect","stroke":"#000","strokeOpacity":0.4,"strokeWidth":1.2},
        "encoding":{"fill":{"condition":{"test":"datum.k=='G'","value":"#7B7F7B"},"field":"t","type":"nominal","scale":{"domain":["59A","59B","59C","73","84A","84B","84C","59T","84T"],"range":["#FFE100","#00AE94","#8FC31F","#8E80BA","#55C1EF","#F4AD55","#EE88B4","#69B0A6","#3E7DC1"]},"legend":null}}},
       {"mark":{"type":"text","baseline":"middle","fontSize":11.5},"encoding":{"text":{"field":"u","type":"nominal"},"color":{"condition":{"test":"datum.k=='G'","value":"#676B67"},"value":"#333333"}}},
       {"data":{"name":"lf4"},"mark":{"type":"text","fontSize":12,"color":"#333","baseline":"middle"},"encoding":{"x":{"field":"c","type":"ordinal","bandPosition":0.37},"text":{"field":"l","type":"nominal"}}},
       {"data":{"name":"lf4"},"mark":{"type":"rule"},"encoding":{"x":{"field":"c","type":"ordinal","bandPosition":0},"x2":{"field":"c","bandPosition":0.74},"y":{"field":"f","type":"ordinal","bandPosition":1},"color":{"condition":{"test":"datum.f==1","value":"#333"},"value":"#999"},"strokeWidth":{"condition":{"test":"datum.f==1","value":2},"value":1.2}}},
       {"data":{"name":"lf4"},"transform":[{"filter":"datum.f==4"}],"mark":{"type":"rule","color":"#333","strokeWidth":2},"encoding":{"x":{"field":"c","type":"ordinal","bandPosition":0},"x2":{"field":"c","bandPosition":0.74},"y":{"field":"f","type":"ordinal","bandPosition":0}}}
      ]},
     {"width":350,"height":36,
      "encoding":{"x":{"field":"s","type":"ordinal","scale":{"type":"band","domain":["L","T3-1","T3-2","e1","e2","e3","e4"],"paddingInner":0,"paddingOuter":0},"axis":null},
       "y":{"field":"r","type":"ordinal","scale":{"type":"band","domain":["타입","동"],"paddingInner":0,"paddingOuter":0},"axis":null}},
      "layer":[
       {"data":{"name":"tT3"},"mark":{"type":"rect","stroke":"#000","strokeOpacity":0.4,"strokeWidth":1.2},"encoding":{"fill":{"field":"t","type":"nominal","scale":{"domain":["59A","59B","59C","73","84A","84B","84C","59T","84T"],"range":["#FFE100","#00AE94","#8FC31F","#8E80BA","#55C1EF","#F4AD55","#EE88B4","#69B0A6","#3E7DC1"]},"legend":null}}},
       {"data":{"name":"tT3"},"mark":{"type":"text","fontSize":11.5,"color":"#333","baseline":"middle"},"encoding":{"text":{"field":"t","type":"nominal"}}},
       {"data":{"name":"nT3"},"mark":{"type":"rect","fill":"#E6E6E6","stroke":"#8C8C8C","strokeWidth":1.5},"encoding":{"x":{"field":"s","type":"ordinal","bandPosition":0},"x2":{"field":"s2","bandPosition":1}}},
       {"data":{"name":"nT3"},"mark":{"type":"text","fontSize":12.5,"color":"#222","baseline":"middle"},"encoding":{"x":{"field":"a","type":"ordinal","bandPosition":1},"text":{"field":"b","type":"nominal"}}},
       {"data":{"name":"lt"},"mark":{"type":"text","fontSize":12,"color":"#333","baseline":"middle"},"encoding":{"x":{"field":"c","type":"ordinal","bandPosition":0.37},"text":{"field":"r","type":"nominal"}}},
       {"data":{"name":"lt"},"mark":{"type":"rule"},"encoding":{"x":{"field":"c","type":"ordinal","bandPosition":0},"x2":{"field":"c","bandPosition":0.74},"y":{"field":"r","type":"ordinal","bandPosition":1},"color":{"condition":{"test":"datum.r=='동'","value":"#333"},"value":"#AAA"},"strokeWidth":{"condition":{"test":"datum.r=='동'","value":2},"value":1.2}}},
       {"data":{"name":"lt"},"transform":[{"filter":"datum.r=='타입'"}],"mark":{"type":"rule","color":"#333","strokeWidth":2},"encoding":{"x":{"field":"c","type":"ordinal","bandPosition":0},"x2":{"field":"c","bandPosition":0.74},"y":{"field":"r","type":"ordinal","bandPosition":0}}}
      ]}
    ]}
   ]},
   {"spacing":7,"vconcat":[
    {"width":350,"height":61.5,"data":{"name":"cT4"},
     "encoding":{"x":{"field":"s","type":"ordinal","scale":{"type":"band","domain":["L","T4-1","T4-2","T4-3","T4-4","T4-5","T4-6"],"paddingInner":0,"paddingOuter":0},"axis":null},
      "y":{"field":"f","type":"ordinal","scale":{"type":"band","domain":[4,3,2,1],"paddingInner":0,"paddingOuter":0},"axis":null}},
     "layer":[
      {"transform":[{"lookup":"s","from":{"data":{"name":"tT4"},"key":"s","fields":["t"]}}],"mark":{"type":"rect","stroke":"#000","strokeOpacity":0.4,"strokeWidth":1.2},
       "encoding":{"fill":{"condition":{"test":"datum.k=='G'","value":"#7B7F7B"},"field":"t","type":"nominal","scale":{"domain":["59A","59B","59C","73","84A","84B","84C","59T","84T"],"range":["#FFE100","#00AE94","#8FC31F","#8E80BA","#55C1EF","#F4AD55","#EE88B4","#69B0A6","#3E7DC1"]},"legend":null}}},
      {"mark":{"type":"text","baseline":"middle","fontSize":11.5},"encoding":{"text":{"field":"u","type":"nominal"},"color":{"condition":{"test":"datum.k=='G'","value":"#676B67"},"value":"#333333"}}},
      {"data":{"name":"lf4"},"mark":{"type":"text","fontSize":12,"color":"#333","baseline":"middle"},"encoding":{"x":{"field":"c","type":"ordinal","bandPosition":0.37},"text":{"field":"l","type":"nominal"}}},
      {"data":{"name":"lf4"},"mark":{"type":"rule"},"encoding":{"x":{"field":"c","type":"ordinal","bandPosition":0},"x2":{"field":"c","bandPosition":0.74},"y":{"field":"f","type":"ordinal","bandPosition":1},"color":{"condition":{"test":"datum.f==1","value":"#333"},"value":"#999"},"strokeWidth":{"condition":{"test":"datum.f==1","value":2},"value":1.2}}},
      {"data":{"name":"lf4"},"transform":[{"filter":"datum.f==4"}],"mark":{"type":"rule","color":"#333","strokeWidth":2},"encoding":{"x":{"field":"c","type":"ordinal","bandPosition":0},"x2":{"field":"c","bandPosition":0.74},"y":{"field":"f","type":"ordinal","bandPosition":0}}}
     ]},
    {"width":350,"height":36,
     "encoding":{"x":{"field":"s","type":"ordinal","scale":{"type":"band","domain":["L","T4-1","T4-2","T4-3","T4-4","T4-5","T4-6"],"paddingInner":0,"paddingOuter":0},"axis":null},
      "y":{"field":"r","type":"ordinal","scale":{"type":"band","domain":["타입","동"],"paddingInner":0,"paddingOuter":0},"axis":null}},
     "layer":[
      {"data":{"name":"tT4"},"mark":{"type":"rect","stroke":"#000","strokeOpacity":0.4,"strokeWidth":1.2},"encoding":{"fill":{"field":"t","type":"nominal","scale":{"domain":["59A","59B","59C","73","84A","84B","84C","59T","84T"],"range":["#FFE100","#00AE94","#8FC31F","#8E80BA","#55C1EF","#F4AD55","#EE88B4","#69B0A6","#3E7DC1"]},"legend":null}}},
      {"data":{"name":"tT4"},"mark":{"type":"text","fontSize":11.5,"color":"#333","baseline":"middle"},"encoding":{"text":{"field":"t","type":"nominal"}}},
      {"data":{"name":"nT4"},"mark":{"type":"rect","fill":"#E6E6E6","stroke":"#8C8C8C","strokeWidth":1.5},"encoding":{"x":{"field":"s","type":"ordinal","bandPosition":0},"x2":{"field":"s2","bandPosition":1}}},
      {"data":{"name":"nT4"},"mark":{"type":"text","fontSize":12.5,"color":"#222","baseline":"middle"},"encoding":{"x":{"field":"a","type":"ordinal","bandPosition":1},"text":{"field":"b","type":"nominal"}}},
      {"data":{"name":"lt"},"mark":{"type":"text","fontSize":12,"color":"#333","baseline":"middle"},"encoding":{"x":{"field":"c","type":"ordinal","bandPosition":0.37},"text":{"field":"r","type":"nominal"}}},
      {"data":{"name":"lt"},"mark":{"type":"rule"},"encoding":{"x":{"field":"c","type":"ordinal","bandPosition":0},"x2":{"field":"c","bandPosition":0.74},"y":{"field":"r","type":"ordinal","bandPosition":1},"color":{"condition":{"test":"datum.r=='동'","value":"#333"},"value":"#AAA"},"strokeWidth":{"condition":{"test":"datum.r=='동'","value":2},"value":1.2}}},
      {"data":{"name":"lt"},"transform":[{"filter":"datum.r=='타입'"}],"mark":{"type":"rule","color":"#333","strokeWidth":2},"encoding":{"x":{"field":"c","type":"ordinal","bandPosition":0},"x2":{"field":"c","bandPosition":0.74},"y":{"field":"r","type":"ordinal","bandPosition":0}}}
     ]}
   ]}
  ]},
  {"width":75,"height":599,"data":{"name":"lg"},
   "encoding":{
    "x":{"field":"c","type":"nominal","scale":{"type":"band","domain":["sw"],"paddingInner":0,"paddingOuter":0},"axis":null},
    "y":{"field":"k","type":"nominal","scale":{"type":"band","domain":["_1","_2","_3","_4","_5","_6","_7","_8","_9","_10","_11","_12","59A","59B","59C","73","84A","84B","84C","59T","84T","P","G"],"paddingInner":0.336,"paddingOuter":0.367,"align":1},"axis":null}
   },
   "layer":[
    {"mark":{"type":"rect","stroke":"#777","strokeWidth":1},
     "encoding":{"fill":{"condition":[{"test":"datum.k=='P'","value":"#FFFFFF"},{"test":"datum.k=='G'","value":"#7B7F7B"}],"field":"k","type":"nominal","scale":{"domain":["59A","59B","59C","73","84A","84B","84C","59T","84T"],"range":["#FFE100","#00AE94","#8FC31F","#8E80BA","#55C1EF","#F4AD55","#EE88B4","#69B0A6","#3E7DC1"]},"legend":null}}},
    {"transform":[{"filter":"datum.k=='P'"}],"mark":{"type":"rule","color":"#808080","strokeWidth":1},
     "encoding":{"x":{"field":"c","type":"nominal","bandPosition":0},"x2":{"field":"c","bandPosition":1},"y":{"field":"k","type":"nominal","bandPosition":0},"y2":{"field":"k","bandPosition":1}}},
    {"transform":[{"filter":"datum.k=='P'"}],"mark":{"type":"rule","color":"#808080","strokeWidth":1},
     "encoding":{"x":{"field":"c","type":"nominal","bandPosition":0},"x2":{"field":"c","bandPosition":1},"y":{"field":"k","type":"nominal","bandPosition":1},"y2":{"field":"k","bandPosition":0}}},
    {"mark":{"type":"text","align":"left","dx":10,"fontSize":13.5,"color":"#333","baseline":"middle"},
     "encoding":{"x":{"field":"c","type":"nominal","bandPosition":1},"text":{"field":"l","type":"nominal"}}}
   ]}
 ]}
]}
]
}
